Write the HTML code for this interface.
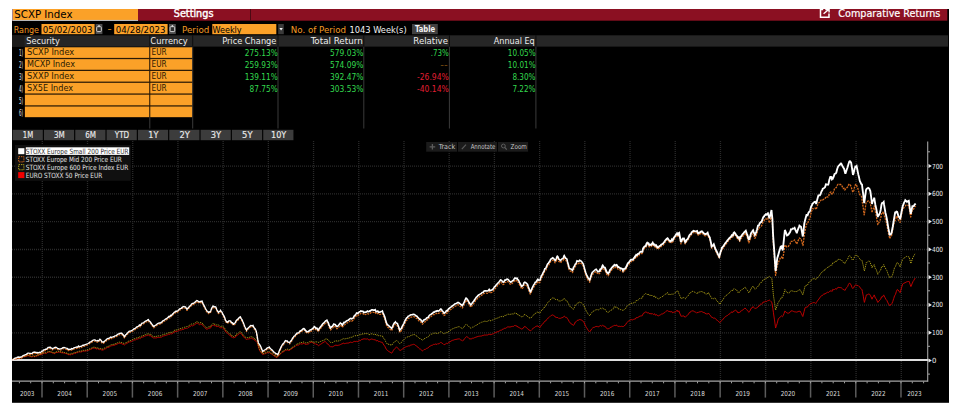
<!DOCTYPE html>
<html lang="en"><head><meta charset="utf-8"><title>SCXP Index - Comparative Returns</title>
<style>
html,body{margin:0;padding:0;background:#fff;}
body{width:964px;height:416px;overflow:hidden;position:relative;}
#ui{position:absolute;left:0;top:0;display:block;}
#ui text{white-space:pre;}
#ui .g{stroke:#2a2a2a;stroke-width:1.3;stroke-dasharray:1 1;}
</style></head><body>
<svg id="ui" width="964" height="416" viewBox="0 0 964 416" font-family='&quot;DejaVu Sans Condensed&quot;,&quot;DejaVu Sans&quot;,&quot;Liberation Sans&quot;,sans-serif'>
<rect x="12.00" y="9.00" width="937.00" height="393.80" fill="#000"/>
<rect x="12.00" y="9.00" width="935.30" height="11.70" fill="#8b1022"/>
<rect x="12.30" y="9.00" width="125.70" height="12.00" fill="#b8b8b8"/>
<rect x="13.00" y="9.00" width="125.00" height="10.90" fill="#fba128"/>
<text x="14.25" y="17.80" textLength="58.30" lengthAdjust="spacingAndGlyphs" font-size="10.2" fill="#000" style='font-family:"DejaVu Sans","Liberation Sans",sans-serif'>SCXP Index</text>
<text x="173.75" y="17.10" textLength="39.70" lengthAdjust="spacingAndGlyphs" font-size="10.8" fill="#fff" stroke="#fff" stroke-width="0.4">Settings</text>
<rect x="250.00" y="9.00" width="1.00" height="11.70" fill="#4d0913"/>
<path d="M823.2,9.6 H820.5 V17.2 H829 V13.6" fill="none" stroke="#fff" stroke-width="1.5"/>
<path d="M823.6,13.8 L828.4,9.7 M825.3,9.5 H829.1 V12.5" fill="none" stroke="#fff" stroke-width="1.4"/>
<text x="838.35" y="16.80" textLength="102.00" lengthAdjust="spacingAndGlyphs" font-size="10.2" fill="#fff" style='font-family:"DejaVu Sans","Liberation Sans",sans-serif' stroke="#fff" stroke-width="0.2">Comparative Returns</text>
<text x="13.65" y="32.90" textLength="25.30" lengthAdjust="spacingAndGlyphs" font-size="9.4" fill="#f39a23">Range</text>
<rect x="41.50" y="24.00" width="53.10" height="10.20" fill="#fba128"/>
<text x="42.85" y="32.90" textLength="49.70" lengthAdjust="spacingAndGlyphs" font-size="9.4" fill="#000">05/02/2003</text>
<rect x="95.60" y="24.00" width="6.80" height="10.10" fill="#4e4e4e"/><rect x="96.70" y="26.7" width="4.6" height="4.9" rx="0.8" fill="#2e2e2e" stroke="#e2e2e2" stroke-width="0.9"/><rect x="98.30" y="25.20" width="1.40" height="1.30" fill="#efefef"/>
<text x="107.50" y="32.10" textLength="4.20" lengthAdjust="spacingAndGlyphs" font-size="9.4" fill="#f39a23">-</text>
<rect x="114.20" y="24.00" width="53.40" height="10.20" fill="#fba128"/>
<text x="115.85" y="32.90" textLength="49.70" lengthAdjust="spacingAndGlyphs" font-size="9.4" fill="#000">04/28/2023</text>
<rect x="169.00" y="24.00" width="6.80" height="10.10" fill="#4e4e4e"/><rect x="170.10" y="26.7" width="4.6" height="4.9" rx="0.8" fill="#2e2e2e" stroke="#e2e2e2" stroke-width="0.9"/><rect x="171.70" y="25.20" width="1.40" height="1.30" fill="#efefef"/>
<text x="182.05" y="32.90" textLength="27.30" lengthAdjust="spacingAndGlyphs" font-size="9.4" fill="#f39a23">Period</text>
<rect x="212.30" y="24.00" width="64.00" height="10.20" fill="#fba128"/>
<text x="212.45" y="32.90" textLength="29.20" lengthAdjust="spacingAndGlyphs" font-size="9.4" fill="#000">Weekly</text>
<rect x="278.20" y="24.00" width="5.60" height="10.20" fill="#3a3a3a"/>
<path d="M279.4,28 h3.4 l-1.7,2.6 z" fill="#f2f2f2"/>
<text x="290.75" y="32.90" textLength="55.30" lengthAdjust="spacingAndGlyphs" font-size="9.4" fill="#f39a23">No. of Period</text>
<text x="349.45" y="32.90" textLength="57.20" lengthAdjust="spacingAndGlyphs" font-size="9.4" fill="#f2f2f2">1043 Week(s)</text>
<rect x="412.00" y="24.00" width="25.80" height="10.20" fill="#404040"/>
<text x="415.05" y="32.20" textLength="20.10" lengthAdjust="spacingAndGlyphs" font-size="8.6" fill="#f4f4f4" font-weight="bold">Table</text>
<rect x="12.00" y="35.30" width="936.00" height="11.30" fill="#262626"/>
<rect x="12.00" y="35.30" width="12.50" height="11.30" fill="#1b1b1b"/>
<text x="26.25" y="44.00" textLength="33.60" lengthAdjust="spacingAndGlyphs" font-size="9.2" fill="#ededed">Security</text>
<text x="150.35" y="44.00" textLength="37.40" lengthAdjust="spacingAndGlyphs" font-size="9.2" fill="#ededed">Currency</text>
<text x="222.15" y="44.00" textLength="54.30" lengthAdjust="spacingAndGlyphs" font-size="9.2" fill="#ededed">Price Change</text>
<text x="310.65" y="44.00" textLength="52.10" lengthAdjust="spacingAndGlyphs" font-size="9.2" fill="#ededed">Total Return</text>
<text x="413.35" y="44.00" textLength="34.60" lengthAdjust="spacingAndGlyphs" font-size="9.2" fill="#ededed">Relative</text>
<text x="493.85" y="44.00" textLength="40.90" lengthAdjust="spacingAndGlyphs" font-size="9.2" fill="#ededed">Annual Eq</text>
<rect x="149.30" y="46.60" width="1.00" height="81.90" fill="#3a3a3a"/>
<rect x="149.30" y="35.30" width="1.00" height="11.30" fill="#0e0e0e"/>
<rect x="192.20" y="46.60" width="1.00" height="81.90" fill="#3a3a3a"/>
<rect x="192.20" y="35.30" width="1.00" height="11.30" fill="#0e0e0e"/>
<rect x="277.50" y="46.60" width="1.00" height="81.90" fill="#3a3a3a"/>
<rect x="277.50" y="35.30" width="1.00" height="11.30" fill="#0e0e0e"/>
<rect x="363.30" y="46.60" width="1.00" height="81.90" fill="#3a3a3a"/>
<rect x="363.30" y="35.30" width="1.00" height="11.30" fill="#0e0e0e"/>
<rect x="448.90" y="46.60" width="1.00" height="81.90" fill="#3a3a3a"/>
<rect x="448.90" y="35.30" width="1.00" height="11.30" fill="#0e0e0e"/>
<rect x="535.40" y="46.60" width="1.00" height="81.90" fill="#3a3a3a"/>
<rect x="535.40" y="35.30" width="1.00" height="11.30" fill="#0e0e0e"/>
<rect x="24.90" y="47.30" width="167.20" height="70.00" fill="#2a1a05"/>
<rect x="24.90" y="47.30" width="124.30" height="10.60" fill="#fba128"/>
<rect x="150.30" y="47.30" width="41.80" height="10.60" fill="#fba128"/>
<text x="19.00" y="56.40" textLength="4.10" lengthAdjust="spacingAndGlyphs" font-size="8.8" fill="#e6e6e6">1)</text>
<text x="27.05" y="55.40" textLength="47.20" lengthAdjust="spacingAndGlyphs" font-size="8.8" fill="#2b1a02">SCXP Index</text>
<text x="151.55" y="55.40" textLength="15.10" lengthAdjust="spacingAndGlyphs" font-size="8.8" fill="#2b1a02">EUR</text>
<text x="244.85" y="56.30" textLength="32.80" lengthAdjust="spacingAndGlyphs" font-size="9.4" fill="#33d84e">275.13%</text>
<text x="330.05" y="56.30" textLength="33.40" lengthAdjust="spacingAndGlyphs" font-size="9.4" fill="#33d84e">579.03%</text>
<text x="430.65" y="56.30" textLength="18.10" lengthAdjust="spacingAndGlyphs" font-size="9.4" fill="#33d84e">.73%</text>
<text x="507.85" y="56.30" textLength="27.70" lengthAdjust="spacingAndGlyphs" font-size="9.4" fill="#33d84e">10.05%</text>
<rect x="24.90" y="59.15" width="124.30" height="10.60" fill="#fba128"/>
<rect x="150.30" y="59.15" width="41.80" height="10.60" fill="#fba128"/>
<text x="19.00" y="68.25" textLength="4.10" lengthAdjust="spacingAndGlyphs" font-size="8.8" fill="#e6e6e6">2)</text>
<text x="27.05" y="67.25" textLength="47.90" lengthAdjust="spacingAndGlyphs" font-size="8.8" fill="#2b1a02">MCXP Index</text>
<text x="151.55" y="67.25" textLength="15.10" lengthAdjust="spacingAndGlyphs" font-size="8.8" fill="#2b1a02">EUR</text>
<text x="244.85" y="68.15" textLength="32.80" lengthAdjust="spacingAndGlyphs" font-size="9.4" fill="#33d84e">259.93%</text>
<text x="330.05" y="68.15" textLength="33.40" lengthAdjust="spacingAndGlyphs" font-size="9.4" fill="#33d84e">574.09%</text>
<text x="440.25" y="68.15" textLength="7.40" lengthAdjust="spacingAndGlyphs" font-size="9.4" fill="#8a5a14">--</text>
<text x="507.85" y="68.15" textLength="27.70" lengthAdjust="spacingAndGlyphs" font-size="9.4" fill="#33d84e">10.01%</text>
<rect x="24.90" y="71.00" width="124.30" height="10.60" fill="#fba128"/>
<rect x="150.30" y="71.00" width="41.80" height="10.60" fill="#fba128"/>
<text x="19.00" y="80.10" textLength="4.10" lengthAdjust="spacingAndGlyphs" font-size="8.8" fill="#e6e6e6">3)</text>
<text x="27.05" y="79.10" textLength="47.20" lengthAdjust="spacingAndGlyphs" font-size="8.8" fill="#2b1a02">SXXP Index</text>
<text x="151.55" y="79.10" textLength="15.10" lengthAdjust="spacingAndGlyphs" font-size="8.8" fill="#2b1a02">EUR</text>
<text x="244.85" y="80.00" textLength="32.80" lengthAdjust="spacingAndGlyphs" font-size="9.4" fill="#33d84e">139.11%</text>
<text x="330.05" y="80.00" textLength="33.40" lengthAdjust="spacingAndGlyphs" font-size="9.4" fill="#33d84e">392.47%</text>
<text x="417.05" y="80.00" textLength="31.70" lengthAdjust="spacingAndGlyphs" font-size="9.4" fill="#e11e32">-26.94%</text>
<text x="512.45" y="80.00" textLength="23.10" lengthAdjust="spacingAndGlyphs" font-size="9.4" fill="#33d84e">8.30%</text>
<rect x="24.90" y="82.85" width="124.30" height="10.60" fill="#fba128"/>
<rect x="150.30" y="82.85" width="41.80" height="10.60" fill="#fba128"/>
<text x="19.00" y="91.95" textLength="4.10" lengthAdjust="spacingAndGlyphs" font-size="8.8" fill="#e6e6e6">4)</text>
<text x="27.05" y="90.95" textLength="46.10" lengthAdjust="spacingAndGlyphs" font-size="8.8" fill="#2b1a02">SX5E Index</text>
<text x="151.55" y="90.95" textLength="15.10" lengthAdjust="spacingAndGlyphs" font-size="8.8" fill="#2b1a02">EUR</text>
<text x="249.55" y="91.85" textLength="28.10" lengthAdjust="spacingAndGlyphs" font-size="9.4" fill="#33d84e">87.75%</text>
<text x="330.05" y="91.85" textLength="33.40" lengthAdjust="spacingAndGlyphs" font-size="9.4" fill="#33d84e">303.53%</text>
<text x="417.05" y="91.85" textLength="31.70" lengthAdjust="spacingAndGlyphs" font-size="9.4" fill="#e11e32">-40.14%</text>
<text x="512.45" y="91.85" textLength="23.10" lengthAdjust="spacingAndGlyphs" font-size="9.4" fill="#33d84e">7.22%</text>
<rect x="24.90" y="94.70" width="124.30" height="10.60" fill="#fba128"/>
<rect x="150.30" y="94.70" width="41.80" height="10.60" fill="#fba128"/>
<text x="19.00" y="103.80" textLength="4.10" lengthAdjust="spacingAndGlyphs" font-size="8.8" fill="#e6e6e6">5)</text>
<rect x="24.90" y="106.55" width="124.30" height="10.60" fill="#fba128"/>
<rect x="150.30" y="106.55" width="41.80" height="10.60" fill="#fba128"/>
<text x="19.00" y="115.65" textLength="4.10" lengthAdjust="spacingAndGlyphs" font-size="8.8" fill="#e6e6e6">6)</text>
<rect x="12.60" y="129.80" width="30.20" height="10.40" fill="#3c3c3c"/>
<text x="22.80" y="138.00" textLength="10.40" lengthAdjust="spacingAndGlyphs" font-size="8.2" fill="#ececec" stroke="#ececec" stroke-width="0.12">1M</text>
<rect x="43.93" y="129.80" width="30.20" height="10.40" fill="#3c3c3c"/>
<text x="53.93" y="138.00" textLength="10.80" lengthAdjust="spacingAndGlyphs" font-size="8.2" fill="#ececec" stroke="#ececec" stroke-width="0.12">3M</text>
<rect x="75.26" y="129.80" width="30.20" height="10.40" fill="#3c3c3c"/>
<text x="85.26" y="138.00" textLength="10.80" lengthAdjust="spacingAndGlyphs" font-size="8.2" fill="#ececec" stroke="#ececec" stroke-width="0.12">6M</text>
<rect x="106.59" y="129.80" width="30.20" height="10.40" fill="#3c3c3c"/>
<text x="114.74" y="138.00" textLength="14.50" lengthAdjust="spacingAndGlyphs" font-size="8.2" fill="#ececec" stroke="#ececec" stroke-width="0.12">YTD</text>
<rect x="137.92" y="129.80" width="30.20" height="10.40" fill="#3c3c3c"/>
<text x="148.27" y="138.00" textLength="10.10" lengthAdjust="spacingAndGlyphs" font-size="8.2" fill="#ececec" stroke="#ececec" stroke-width="0.12">1Y</text>
<rect x="169.25" y="129.80" width="30.20" height="10.40" fill="#3c3c3c"/>
<text x="179.40" y="138.00" textLength="10.50" lengthAdjust="spacingAndGlyphs" font-size="8.2" fill="#ececec" stroke="#ececec" stroke-width="0.12">2Y</text>
<rect x="200.58" y="129.80" width="30.20" height="10.40" fill="#3c3c3c"/>
<text x="210.73" y="138.00" textLength="10.50" lengthAdjust="spacingAndGlyphs" font-size="8.2" fill="#ececec" stroke="#ececec" stroke-width="0.12">3Y</text>
<rect x="231.91" y="129.80" width="30.20" height="10.40" fill="#3c3c3c"/>
<text x="242.06" y="138.00" textLength="10.50" lengthAdjust="spacingAndGlyphs" font-size="8.2" fill="#ececec" stroke="#ececec" stroke-width="0.12">5Y</text>
<rect x="263.24" y="129.80" width="30.20" height="10.40" fill="#3c3c3c"/>
<text x="270.99" y="138.00" textLength="15.30" lengthAdjust="spacingAndGlyphs" font-size="8.2" fill="#ececec" stroke="#ececec" stroke-width="0.12">10Y</text>
<line x1="42.30" y1="141" x2="42.30" y2="381" class="g"/>
<line x1="87.51" y1="141" x2="87.51" y2="381" class="g"/>
<line x1="132.72" y1="141" x2="132.72" y2="381" class="g"/>
<line x1="177.93" y1="141" x2="177.93" y2="381" class="g"/>
<line x1="223.14" y1="141" x2="223.14" y2="381" class="g"/>
<line x1="268.35" y1="141" x2="268.35" y2="381" class="g"/>
<line x1="313.56" y1="141" x2="313.56" y2="381" class="g"/>
<line x1="358.77" y1="141" x2="358.77" y2="381" class="g"/>
<line x1="403.98" y1="141" x2="403.98" y2="381" class="g"/>
<line x1="449.19" y1="141" x2="449.19" y2="381" class="g"/>
<line x1="494.40" y1="141" x2="494.40" y2="381" class="g"/>
<line x1="539.61" y1="141" x2="539.61" y2="381" class="g"/>
<line x1="584.82" y1="141" x2="584.82" y2="381" class="g"/>
<line x1="630.03" y1="141" x2="630.03" y2="381" class="g"/>
<line x1="675.24" y1="141" x2="675.24" y2="381" class="g"/>
<line x1="720.45" y1="141" x2="720.45" y2="381" class="g"/>
<line x1="765.66" y1="141" x2="765.66" y2="381" class="g"/>
<line x1="810.87" y1="141" x2="810.87" y2="381" class="g"/>
<line x1="856.08" y1="141" x2="856.08" y2="381" class="g"/>
<line x1="901.29" y1="141" x2="901.29" y2="381" class="g"/>
<line x1="12" y1="332.82" x2="928" y2="332.82" class="g"/>
<line x1="12" y1="305.04" x2="928" y2="305.04" class="g"/>
<line x1="12" y1="277.26" x2="928" y2="277.26" class="g"/>
<line x1="12" y1="249.48" x2="928" y2="249.48" class="g"/>
<line x1="12" y1="221.70" x2="928" y2="221.70" class="g"/>
<line x1="12" y1="193.92" x2="928" y2="193.92" class="g"/>
<line x1="12" y1="166.14" x2="928" y2="166.14" class="g"/>
<line x1="42.00" y1="381.5" x2="42.00" y2="397.6" stroke="#5c5c5c" stroke-width="1.5"/>
<line x1="87.21" y1="381.5" x2="87.21" y2="397.6" stroke="#5c5c5c" stroke-width="1.5"/>
<line x1="132.42" y1="381.5" x2="132.42" y2="397.6" stroke="#5c5c5c" stroke-width="1.5"/>
<line x1="177.63" y1="381.5" x2="177.63" y2="397.6" stroke="#5c5c5c" stroke-width="1.5"/>
<line x1="222.84" y1="381.5" x2="222.84" y2="397.6" stroke="#5c5c5c" stroke-width="1.5"/>
<line x1="268.05" y1="381.5" x2="268.05" y2="397.6" stroke="#5c5c5c" stroke-width="1.5"/>
<line x1="313.26" y1="381.5" x2="313.26" y2="397.6" stroke="#5c5c5c" stroke-width="1.5"/>
<line x1="358.47" y1="381.5" x2="358.47" y2="397.6" stroke="#5c5c5c" stroke-width="1.5"/>
<line x1="403.68" y1="381.5" x2="403.68" y2="397.6" stroke="#5c5c5c" stroke-width="1.5"/>
<line x1="448.89" y1="381.5" x2="448.89" y2="397.6" stroke="#5c5c5c" stroke-width="1.5"/>
<line x1="494.10" y1="381.5" x2="494.10" y2="397.6" stroke="#5c5c5c" stroke-width="1.5"/>
<line x1="539.31" y1="381.5" x2="539.31" y2="397.6" stroke="#5c5c5c" stroke-width="1.5"/>
<line x1="584.52" y1="381.5" x2="584.52" y2="397.6" stroke="#5c5c5c" stroke-width="1.5"/>
<line x1="629.73" y1="381.5" x2="629.73" y2="397.6" stroke="#5c5c5c" stroke-width="1.5"/>
<line x1="674.94" y1="381.5" x2="674.94" y2="397.6" stroke="#5c5c5c" stroke-width="1.5"/>
<line x1="720.15" y1="381.5" x2="720.15" y2="397.6" stroke="#5c5c5c" stroke-width="1.5"/>
<line x1="765.36" y1="381.5" x2="765.36" y2="397.6" stroke="#5c5c5c" stroke-width="1.5"/>
<line x1="810.57" y1="381.5" x2="810.57" y2="397.6" stroke="#5c5c5c" stroke-width="1.5"/>
<line x1="855.78" y1="381.5" x2="855.78" y2="397.6" stroke="#5c5c5c" stroke-width="1.5"/>
<line x1="900.99" y1="381.5" x2="900.99" y2="397.6" stroke="#5c5c5c" stroke-width="1.5"/>
<line x1="12" y1="381.1" x2="928.2" y2="381.1" stroke="#a4a4a4" stroke-width="1.1"/>
<line x1="927.7" y1="141.5" x2="927.7" y2="381.6" stroke="#a4a4a4" stroke-width="1.1"/>
<line x1="19.4" y1="381.5" x2="19.4" y2="383.3" stroke="#a0a0a0" stroke-width="1"/>
<line x1="30.7" y1="381.5" x2="30.7" y2="383.3" stroke="#a0a0a0" stroke-width="1"/>
<line x1="42.0" y1="381.5" x2="42.0" y2="383.3" stroke="#a0a0a0" stroke-width="1"/>
<line x1="53.3" y1="381.5" x2="53.3" y2="383.3" stroke="#a0a0a0" stroke-width="1"/>
<line x1="64.6" y1="381.5" x2="64.6" y2="383.3" stroke="#a0a0a0" stroke-width="1"/>
<line x1="75.9" y1="381.5" x2="75.9" y2="383.3" stroke="#a0a0a0" stroke-width="1"/>
<line x1="87.2" y1="381.5" x2="87.2" y2="383.3" stroke="#a0a0a0" stroke-width="1"/>
<line x1="98.5" y1="381.5" x2="98.5" y2="383.3" stroke="#a0a0a0" stroke-width="1"/>
<line x1="109.8" y1="381.5" x2="109.8" y2="383.3" stroke="#a0a0a0" stroke-width="1"/>
<line x1="121.1" y1="381.5" x2="121.1" y2="383.3" stroke="#a0a0a0" stroke-width="1"/>
<line x1="132.4" y1="381.5" x2="132.4" y2="383.3" stroke="#a0a0a0" stroke-width="1"/>
<line x1="143.7" y1="381.5" x2="143.7" y2="383.3" stroke="#a0a0a0" stroke-width="1"/>
<line x1="155.0" y1="381.5" x2="155.0" y2="383.3" stroke="#a0a0a0" stroke-width="1"/>
<line x1="166.3" y1="381.5" x2="166.3" y2="383.3" stroke="#a0a0a0" stroke-width="1"/>
<line x1="177.6" y1="381.5" x2="177.6" y2="383.3" stroke="#a0a0a0" stroke-width="1"/>
<line x1="188.9" y1="381.5" x2="188.9" y2="383.3" stroke="#a0a0a0" stroke-width="1"/>
<line x1="200.2" y1="381.5" x2="200.2" y2="383.3" stroke="#a0a0a0" stroke-width="1"/>
<line x1="211.5" y1="381.5" x2="211.5" y2="383.3" stroke="#a0a0a0" stroke-width="1"/>
<line x1="222.8" y1="381.5" x2="222.8" y2="383.3" stroke="#a0a0a0" stroke-width="1"/>
<line x1="234.1" y1="381.5" x2="234.1" y2="383.3" stroke="#a0a0a0" stroke-width="1"/>
<line x1="245.4" y1="381.5" x2="245.4" y2="383.3" stroke="#a0a0a0" stroke-width="1"/>
<line x1="256.7" y1="381.5" x2="256.7" y2="383.3" stroke="#a0a0a0" stroke-width="1"/>
<line x1="268.1" y1="381.5" x2="268.1" y2="383.3" stroke="#a0a0a0" stroke-width="1"/>
<line x1="279.4" y1="381.5" x2="279.4" y2="383.3" stroke="#a0a0a0" stroke-width="1"/>
<line x1="290.7" y1="381.5" x2="290.7" y2="383.3" stroke="#a0a0a0" stroke-width="1"/>
<line x1="302.0" y1="381.5" x2="302.0" y2="383.3" stroke="#a0a0a0" stroke-width="1"/>
<line x1="313.3" y1="381.5" x2="313.3" y2="383.3" stroke="#a0a0a0" stroke-width="1"/>
<line x1="324.6" y1="381.5" x2="324.6" y2="383.3" stroke="#a0a0a0" stroke-width="1"/>
<line x1="335.9" y1="381.5" x2="335.9" y2="383.3" stroke="#a0a0a0" stroke-width="1"/>
<line x1="347.2" y1="381.5" x2="347.2" y2="383.3" stroke="#a0a0a0" stroke-width="1"/>
<line x1="358.5" y1="381.5" x2="358.5" y2="383.3" stroke="#a0a0a0" stroke-width="1"/>
<line x1="369.8" y1="381.5" x2="369.8" y2="383.3" stroke="#a0a0a0" stroke-width="1"/>
<line x1="381.1" y1="381.5" x2="381.1" y2="383.3" stroke="#a0a0a0" stroke-width="1"/>
<line x1="392.4" y1="381.5" x2="392.4" y2="383.3" stroke="#a0a0a0" stroke-width="1"/>
<line x1="403.7" y1="381.5" x2="403.7" y2="383.3" stroke="#a0a0a0" stroke-width="1"/>
<line x1="415.0" y1="381.5" x2="415.0" y2="383.3" stroke="#a0a0a0" stroke-width="1"/>
<line x1="426.3" y1="381.5" x2="426.3" y2="383.3" stroke="#a0a0a0" stroke-width="1"/>
<line x1="437.6" y1="381.5" x2="437.6" y2="383.3" stroke="#a0a0a0" stroke-width="1"/>
<line x1="448.9" y1="381.5" x2="448.9" y2="383.3" stroke="#a0a0a0" stroke-width="1"/>
<line x1="460.2" y1="381.5" x2="460.2" y2="383.3" stroke="#a0a0a0" stroke-width="1"/>
<line x1="471.5" y1="381.5" x2="471.5" y2="383.3" stroke="#a0a0a0" stroke-width="1"/>
<line x1="482.8" y1="381.5" x2="482.8" y2="383.3" stroke="#a0a0a0" stroke-width="1"/>
<line x1="494.1" y1="381.5" x2="494.1" y2="383.3" stroke="#a0a0a0" stroke-width="1"/>
<line x1="505.4" y1="381.5" x2="505.4" y2="383.3" stroke="#a0a0a0" stroke-width="1"/>
<line x1="516.7" y1="381.5" x2="516.7" y2="383.3" stroke="#a0a0a0" stroke-width="1"/>
<line x1="528.0" y1="381.5" x2="528.0" y2="383.3" stroke="#a0a0a0" stroke-width="1"/>
<line x1="539.3" y1="381.5" x2="539.3" y2="383.3" stroke="#a0a0a0" stroke-width="1"/>
<line x1="550.6" y1="381.5" x2="550.6" y2="383.3" stroke="#a0a0a0" stroke-width="1"/>
<line x1="561.9" y1="381.5" x2="561.9" y2="383.3" stroke="#a0a0a0" stroke-width="1"/>
<line x1="573.2" y1="381.5" x2="573.2" y2="383.3" stroke="#a0a0a0" stroke-width="1"/>
<line x1="584.5" y1="381.5" x2="584.5" y2="383.3" stroke="#a0a0a0" stroke-width="1"/>
<line x1="595.8" y1="381.5" x2="595.8" y2="383.3" stroke="#a0a0a0" stroke-width="1"/>
<line x1="607.1" y1="381.5" x2="607.1" y2="383.3" stroke="#a0a0a0" stroke-width="1"/>
<line x1="618.4" y1="381.5" x2="618.4" y2="383.3" stroke="#a0a0a0" stroke-width="1"/>
<line x1="629.7" y1="381.5" x2="629.7" y2="383.3" stroke="#a0a0a0" stroke-width="1"/>
<line x1="641.0" y1="381.5" x2="641.0" y2="383.3" stroke="#a0a0a0" stroke-width="1"/>
<line x1="652.3" y1="381.5" x2="652.3" y2="383.3" stroke="#a0a0a0" stroke-width="1"/>
<line x1="663.6" y1="381.5" x2="663.6" y2="383.3" stroke="#a0a0a0" stroke-width="1"/>
<line x1="674.9" y1="381.5" x2="674.9" y2="383.3" stroke="#a0a0a0" stroke-width="1"/>
<line x1="686.2" y1="381.5" x2="686.2" y2="383.3" stroke="#a0a0a0" stroke-width="1"/>
<line x1="697.5" y1="381.5" x2="697.5" y2="383.3" stroke="#a0a0a0" stroke-width="1"/>
<line x1="708.8" y1="381.5" x2="708.8" y2="383.3" stroke="#a0a0a0" stroke-width="1"/>
<line x1="720.2" y1="381.5" x2="720.2" y2="383.3" stroke="#a0a0a0" stroke-width="1"/>
<line x1="731.5" y1="381.5" x2="731.5" y2="383.3" stroke="#a0a0a0" stroke-width="1"/>
<line x1="742.8" y1="381.5" x2="742.8" y2="383.3" stroke="#a0a0a0" stroke-width="1"/>
<line x1="754.1" y1="381.5" x2="754.1" y2="383.3" stroke="#a0a0a0" stroke-width="1"/>
<line x1="765.4" y1="381.5" x2="765.4" y2="383.3" stroke="#a0a0a0" stroke-width="1"/>
<line x1="776.7" y1="381.5" x2="776.7" y2="383.3" stroke="#a0a0a0" stroke-width="1"/>
<line x1="788.0" y1="381.5" x2="788.0" y2="383.3" stroke="#a0a0a0" stroke-width="1"/>
<line x1="799.3" y1="381.5" x2="799.3" y2="383.3" stroke="#a0a0a0" stroke-width="1"/>
<line x1="810.6" y1="381.5" x2="810.6" y2="383.3" stroke="#a0a0a0" stroke-width="1"/>
<line x1="821.9" y1="381.5" x2="821.9" y2="383.3" stroke="#a0a0a0" stroke-width="1"/>
<line x1="833.2" y1="381.5" x2="833.2" y2="383.3" stroke="#a0a0a0" stroke-width="1"/>
<line x1="844.5" y1="381.5" x2="844.5" y2="383.3" stroke="#a0a0a0" stroke-width="1"/>
<line x1="855.8" y1="381.5" x2="855.8" y2="383.3" stroke="#a0a0a0" stroke-width="1"/>
<line x1="867.1" y1="381.5" x2="867.1" y2="383.3" stroke="#a0a0a0" stroke-width="1"/>
<line x1="878.4" y1="381.5" x2="878.4" y2="383.3" stroke="#a0a0a0" stroke-width="1"/>
<line x1="889.7" y1="381.5" x2="889.7" y2="383.3" stroke="#a0a0a0" stroke-width="1"/>
<line x1="901.0" y1="381.5" x2="901.0" y2="383.3" stroke="#a0a0a0" stroke-width="1"/>
<line x1="912.3" y1="381.5" x2="912.3" y2="383.3" stroke="#a0a0a0" stroke-width="1"/>
<line x1="923.6" y1="381.5" x2="923.6" y2="383.3" stroke="#a0a0a0" stroke-width="1"/>
<line x1="928" y1="374.1" x2="930.0" y2="374.1" stroke="#a0a0a0" stroke-width="1"/>
<path d="M928.5,358.4 l3.4,2.1 l-3.4,2.1 z" fill="#ececec"/>
<text x="931.95" y="363.00" textLength="4.40" lengthAdjust="spacingAndGlyphs" font-size="7.0" fill="#ececec">0</text>
<line x1="928" y1="346.3" x2="930.0" y2="346.3" stroke="#a0a0a0" stroke-width="1"/>
<path d="M928.5,330.6 l3.4,2.1 l-3.4,2.1 z" fill="#ececec"/>
<text x="931.95" y="335.22" textLength="11.10" lengthAdjust="spacingAndGlyphs" font-size="7.0" fill="#ececec">100</text>
<line x1="928" y1="318.5" x2="930.0" y2="318.5" stroke="#a0a0a0" stroke-width="1"/>
<path d="M928.5,302.8 l3.4,2.1 l-3.4,2.1 z" fill="#ececec"/>
<text x="931.95" y="307.44" textLength="11.10" lengthAdjust="spacingAndGlyphs" font-size="7.0" fill="#ececec">200</text>
<line x1="928" y1="290.8" x2="930.0" y2="290.8" stroke="#a0a0a0" stroke-width="1"/>
<path d="M928.5,275.1 l3.4,2.1 l-3.4,2.1 z" fill="#ececec"/>
<text x="931.95" y="279.66" textLength="11.10" lengthAdjust="spacingAndGlyphs" font-size="7.0" fill="#ececec">300</text>
<line x1="928" y1="263.0" x2="930.0" y2="263.0" stroke="#a0a0a0" stroke-width="1"/>
<path d="M928.5,247.3 l3.4,2.1 l-3.4,2.1 z" fill="#ececec"/>
<text x="931.95" y="251.88" textLength="11.10" lengthAdjust="spacingAndGlyphs" font-size="7.0" fill="#ececec">400</text>
<line x1="928" y1="235.2" x2="930.0" y2="235.2" stroke="#a0a0a0" stroke-width="1"/>
<path d="M928.5,219.5 l3.4,2.1 l-3.4,2.1 z" fill="#ececec"/>
<text x="931.95" y="224.10" textLength="11.10" lengthAdjust="spacingAndGlyphs" font-size="7.0" fill="#ececec">500</text>
<line x1="928" y1="207.4" x2="930.0" y2="207.4" stroke="#a0a0a0" stroke-width="1"/>
<path d="M928.5,191.7 l3.4,2.1 l-3.4,2.1 z" fill="#ececec"/>
<text x="931.95" y="196.32" textLength="11.10" lengthAdjust="spacingAndGlyphs" font-size="7.0" fill="#ececec">600</text>
<line x1="928" y1="179.6" x2="930.0" y2="179.6" stroke="#a0a0a0" stroke-width="1"/>
<path d="M928.5,163.9 l3.4,2.1 l-3.4,2.1 z" fill="#ececec"/>
<text x="931.95" y="168.54" textLength="11.10" lengthAdjust="spacingAndGlyphs" font-size="7.0" fill="#ececec">700</text>
<line x1="928" y1="151.8" x2="930.0" y2="151.8" stroke="#a0a0a0" stroke-width="1"/>
<line x1="12" y1="360.0" x2="928.4" y2="360.0" stroke="#dedede" stroke-width="2.1"/>
<text x="19.90" y="396.30" textLength="14.50" lengthAdjust="spacingAndGlyphs" font-size="6.9" fill="#d8d8d8">2003</text>
<text x="57.36" y="396.30" textLength="14.50" lengthAdjust="spacingAndGlyphs" font-size="6.9" fill="#d8d8d8">2004</text>
<text x="102.57" y="396.30" textLength="14.50" lengthAdjust="spacingAndGlyphs" font-size="6.9" fill="#d8d8d8">2005</text>
<text x="147.78" y="396.30" textLength="14.50" lengthAdjust="spacingAndGlyphs" font-size="6.9" fill="#d8d8d8">2006</text>
<text x="192.98" y="396.30" textLength="14.50" lengthAdjust="spacingAndGlyphs" font-size="6.9" fill="#d8d8d8">2007</text>
<text x="238.19" y="396.30" textLength="14.50" lengthAdjust="spacingAndGlyphs" font-size="6.9" fill="#d8d8d8">2008</text>
<text x="283.41" y="396.30" textLength="14.50" lengthAdjust="spacingAndGlyphs" font-size="6.9" fill="#d8d8d8">2009</text>
<text x="328.62" y="396.30" textLength="14.50" lengthAdjust="spacingAndGlyphs" font-size="6.9" fill="#d8d8d8">2010</text>
<text x="373.83" y="396.30" textLength="14.50" lengthAdjust="spacingAndGlyphs" font-size="6.9" fill="#d8d8d8">2011</text>
<text x="419.04" y="396.30" textLength="14.50" lengthAdjust="spacingAndGlyphs" font-size="6.9" fill="#d8d8d8">2012</text>
<text x="464.25" y="396.30" textLength="14.50" lengthAdjust="spacingAndGlyphs" font-size="6.9" fill="#d8d8d8">2013</text>
<text x="509.46" y="396.30" textLength="14.50" lengthAdjust="spacingAndGlyphs" font-size="6.9" fill="#d8d8d8">2014</text>
<text x="554.66" y="396.30" textLength="14.50" lengthAdjust="spacingAndGlyphs" font-size="6.9" fill="#d8d8d8">2015</text>
<text x="599.88" y="396.30" textLength="14.50" lengthAdjust="spacingAndGlyphs" font-size="6.9" fill="#d8d8d8">2016</text>
<text x="645.09" y="396.30" textLength="14.50" lengthAdjust="spacingAndGlyphs" font-size="6.9" fill="#d8d8d8">2017</text>
<text x="690.30" y="396.30" textLength="14.50" lengthAdjust="spacingAndGlyphs" font-size="6.9" fill="#d8d8d8">2018</text>
<text x="735.50" y="396.30" textLength="14.50" lengthAdjust="spacingAndGlyphs" font-size="6.9" fill="#d8d8d8">2019</text>
<text x="780.72" y="396.30" textLength="14.50" lengthAdjust="spacingAndGlyphs" font-size="6.9" fill="#d8d8d8">2020</text>
<text x="825.93" y="396.30" textLength="14.50" lengthAdjust="spacingAndGlyphs" font-size="6.9" fill="#d8d8d8">2021</text>
<text x="871.13" y="396.30" textLength="14.50" lengthAdjust="spacingAndGlyphs" font-size="6.9" fill="#d8d8d8">2022</text>
<text x="907.15" y="396.30" textLength="14.50" lengthAdjust="spacingAndGlyphs" font-size="6.9" fill="#d8d8d8">2023</text>
<path d="M12.4,359.6 L13.3,359.5 L14.1,359.4 L15.0,358.9 L15.9,358.7 L16.8,358.7 L17.6,358.3 L18.5,358.1 L19.4,358.2 L20.2,358.0 L21.1,357.6 L21.4,357.5 L22.0,357.3 L22.8,356.8 L23.7,356.7 L24.6,356.7 L25.4,356.3 L26.3,356.4 L27.2,355.9 L28.0,355.6 L28.1,355.6 L28.9,355.9 L29.8,356.3 L30.7,356.6 L31.3,356.9 L31.5,356.8 L32.4,356.7 L33.3,356.1 L34.1,356.7 L35.0,356.6 L35.9,355.9 L36.8,356.3 L37.6,355.6 L38.5,355.6 L39.4,354.8 L40.2,354.8 L40.2,354.8 L41.1,354.6 L42.0,353.8 L42.9,354.2 L43.7,353.4 L44.6,353.2 L45.5,353.3 L46.3,353.4 L47.2,352.8 L48.1,352.0 L48.9,352.3 L49.8,352.0 L50.0,352.0 L50.7,352.3 L51.5,352.5 L52.4,353.0 L53.3,353.1 L54.1,353.6 L54.2,353.6 L55.0,353.6 L55.9,352.4 L56.8,352.5 L57.6,352.5 L58.5,352.2 L59.0,352.0 L59.4,352.2 L60.2,352.4 L61.1,352.6 L62.0,352.9 L62.9,352.8 L63.7,353.0 L64.0,353.1 L64.6,353.2 L65.5,353.5 L66.3,353.7 L67.2,353.8 L68.1,354.8 L69.0,354.5 L69.8,354.7 L70.5,354.8 L70.7,354.7 L71.6,354.1 L72.4,354.4 L73.3,353.9 L74.2,353.2 L75.0,353.5 L75.9,353.2 L76.8,352.5 L77.7,352.6 L78.5,352.0 L78.7,352.0 L79.4,352.0 L80.3,351.9 L81.1,352.1 L82.0,351.5 L82.9,351.0 L83.7,351.2 L84.6,351.1 L85.5,351.1 L86.3,350.8 L87.2,350.7 L88.1,350.5 L88.5,350.4 L89.0,350.1 L89.8,349.6 L90.7,349.4 L91.6,349.0 L92.4,348.5 L93.3,348.2 L93.4,348.2 L94.2,348.1 L95.0,348.0 L95.9,348.8 L96.8,349.0 L97.7,348.6 L98.5,349.3 L99.4,349.6 L100.3,349.4 L101.1,349.6 L102.0,350.3 L102.9,349.9 L103.2,349.9 L103.8,349.7 L104.6,349.1 L105.5,348.8 L106.4,348.2 L107.2,347.5 L108.1,347.4 L109.0,347.3 L109.8,346.6 L110.7,346.0 L111.4,345.8 L111.6,345.8 L112.5,345.6 L113.3,345.4 L114.2,345.4 L115.1,344.8 L115.9,344.6 L116.8,344.4 L117.7,343.8 L118.5,343.5 L119.4,343.4 L119.5,343.3 L120.3,343.5 L121.2,343.4 L122.0,344.1 L122.9,344.2 L123.8,344.6 L124.4,345.0 L124.6,344.9 L125.5,344.0 L126.4,343.7 L127.2,343.2 L128.1,342.7 L129.0,342.0 L129.8,341.8 L130.0,341.7 L130.7,341.8 L131.6,341.4 L132.5,340.8 L133.3,340.3 L134.2,340.0 L135.1,340.0 L135.9,339.7 L136.8,339.0 L137.7,339.1 L138.0,339.0 L138.6,338.8 L139.4,338.0 L140.3,338.6 L141.2,337.7 L142.0,337.0 L142.9,337.1 L143.8,336.7 L144.6,336.3 L145.5,335.9 L146.4,335.6 L147.2,335.5 L148.1,335.0 L148.4,335.0 L149.0,335.6 L149.9,335.8 L150.7,335.6 L151.6,336.9 L152.5,337.4 L153.3,337.8 L153.8,338.0 L154.2,337.9 L155.1,337.9 L155.9,337.9 L156.8,337.8 L157.7,337.4 L158.6,337.4 L159.4,337.4 L160.0,337.3 L160.3,337.3 L161.2,337.2 L162.0,336.8 L162.9,336.0 L163.8,335.9 L164.7,335.7 L165.5,335.5 L166.4,335.2 L167.3,334.9 L168.0,334.5 L168.1,334.5 L169.0,333.8 L169.9,334.5 L170.7,333.5 L171.6,333.9 L172.5,333.5 L173.3,333.0 L174.2,331.9 L175.1,331.7 L176.0,331.2 L176.8,331.5 L177.7,331.1 L178.4,330.8 L178.6,330.7 L179.4,330.1 L180.3,330.0 L181.2,330.0 L182.1,329.5 L182.9,329.4 L183.8,329.3 L184.7,328.6 L185.5,328.5 L186.0,328.6 L186.4,328.2 L187.3,328.4 L188.1,327.6 L189.0,327.1 L189.9,326.5 L190.8,326.2 L191.6,325.5 L192.5,325.9 L193.4,325.4 L194.2,325.0 L195.1,324.4 L196.0,323.7 L196.8,323.2 L196.8,323.2 L197.7,323.4 L198.6,324.0 L199.4,324.7 L200.3,324.1 L201.2,324.3 L202.0,324.3 L202.1,324.4 L202.9,325.6 L203.8,326.6 L204.7,327.5 L205.5,328.3 L206.4,329.2 L206.5,329.3 L207.3,329.0 L208.2,328.7 L209.0,327.8 L209.9,328.3 L210.8,327.7 L211.6,326.2 L212.5,325.5 L213.0,325.0 L213.4,325.1 L214.2,325.8 L215.1,325.5 L216.0,326.1 L216.8,326.7 L217.7,326.4 L218.4,326.5 L218.6,326.6 L219.5,327.1 L220.3,327.9 L221.2,327.8 L222.1,327.5 L222.9,328.3 L223.8,328.6 L223.8,328.6 L224.7,329.8 L225.6,331.8 L226.4,332.1 L227.3,333.2 L228.2,333.8 L229.0,334.8 L229.2,335.1 L229.9,335.3 L230.8,335.8 L231.6,337.2 L232.5,337.0 L233.4,337.9 L233.5,338.0 L234.2,337.5 L235.1,337.5 L236.0,336.0 L236.9,335.3 L237.7,335.1 L238.6,334.2 L239.5,333.4 L240.3,333.0 L240.4,333.0 L241.2,334.0 L242.1,334.7 L242.9,336.1 L243.8,337.0 L244.7,338.1 L245.6,338.8 L246.4,339.4 L246.5,339.5 L247.3,339.1 L248.2,338.9 L249.0,339.1 L249.9,338.5 L250.8,338.1 L251.7,338.4 L252.5,338.8 L253.0,338.4 L253.4,338.9 L254.3,340.1 L255.1,340.3 L256.0,341.5 L256.9,342.4 L257.3,342.7 L257.7,344.4 L258.6,347.3 L259.5,350.2 L259.5,350.3 L260.4,351.7 L261.2,352.7 L262.1,353.8 L262.7,354.6 L263.0,354.5 L263.8,354.1 L264.7,353.8 L265.6,353.6 L266.0,353.5 L266.4,353.2 L267.3,352.7 L268.2,352.7 L269.1,352.4 L269.2,352.4 L269.9,353.0 L270.8,353.8 L271.7,354.1 L272.4,354.6 L272.5,354.7 L273.4,355.4 L274.3,356.2 L275.1,356.6 L276.0,357.1 L276.8,357.8 L276.9,357.7 L277.8,356.5 L278.6,356.0 L279.5,354.7 L280.4,354.3 L281.0,353.5 L281.2,353.3 L282.1,352.4 L283.0,351.9 L283.8,351.8 L284.7,350.8 L285.4,350.3 L285.6,350.3 L286.4,350.3 L287.3,349.9 L288.2,350.4 L289.1,350.3 L289.7,350.3 L289.9,350.0 L290.8,349.3 L291.7,349.0 L292.5,347.9 L293.4,347.5 L294.0,347.0 L294.3,346.9 L295.1,346.6 L296.0,345.7 L296.9,345.1 L297.8,345.1 L298.6,345.1 L299.5,344.4 L300.4,343.8 L300.5,343.8 L301.2,344.0 L302.1,344.0 L303.0,343.7 L303.9,343.4 L304.7,343.8 L305.6,344.4 L306.5,344.3 L307.0,344.4 L307.3,344.2 L308.2,344.0 L309.1,343.5 L309.9,342.7 L310.8,342.3 L311.7,342.1 L312.0,342.0 L312.6,342.4 L313.4,343.2 L314.3,343.8 L315.2,343.6 L316.0,344.5 L316.9,344.2 L317.8,345.0 L318.6,345.7 L318.6,345.7 L319.5,345.0 L320.4,344.4 L321.2,343.9 L322.1,343.3 L323.0,342.5 L323.9,342.3 L324.7,341.6 L325.0,341.4 L325.6,341.8 L326.5,342.7 L327.3,343.9 L328.2,344.2 L329.1,345.5 L329.9,346.2 L330.5,346.8 L330.8,346.8 L331.7,346.7 L332.6,346.8 L333.4,346.4 L334.3,345.8 L335.2,345.2 L336.0,345.5 L336.9,345.2 L337.8,345.5 L338.6,345.2 L339.5,345.0 L340.3,344.6 L340.4,344.6 L341.3,344.1 L342.1,343.9 L343.0,343.3 L343.9,343.1 L344.7,343.7 L345.6,343.4 L346.5,343.2 L347.4,343.1 L348.2,343.1 L349.1,342.8 L350.0,342.4 L350.0,342.4 L350.8,342.1 L351.7,342.5 L352.6,342.4 L353.4,341.8 L354.3,341.4 L355.2,341.6 L356.1,341.5 L356.5,341.4 L356.9,341.2 L357.8,341.6 L358.7,340.9 L359.5,340.4 L360.4,340.7 L361.3,339.6 L362.1,339.5 L363.0,339.0 L363.9,338.9 L364.0,338.8 L364.8,338.9 L365.6,339.0 L366.5,339.1 L367.4,338.8 L368.2,339.4 L369.1,340.1 L370.0,339.6 L370.8,339.3 L371.7,339.0 L372.6,339.3 L373.4,339.6 L373.8,339.6 L374.3,339.8 L375.2,339.5 L376.1,340.8 L376.9,340.8 L377.8,340.5 L378.7,341.7 L379.5,341.5 L380.4,341.9 L381.3,342.2 L382.1,342.4 L382.4,342.4 L383.0,343.6 L383.9,345.1 L384.8,346.1 L385.6,348.0 L386.5,349.4 L386.8,350.0 L387.4,350.3 L388.2,351.1 L389.1,351.6 L390.0,352.2 L390.9,352.6 L391.7,353.2 L391.7,353.2 L392.6,351.8 L393.5,350.2 L394.3,349.1 L395.2,348.4 L396.1,347.5 L396.5,346.8 L396.9,347.2 L397.8,348.2 L398.7,349.1 L399.6,350.2 L399.7,350.4 L400.4,350.3 L401.3,350.1 L402.2,349.1 L403.0,348.4 L403.9,348.1 L404.8,347.4 L405.6,347.0 L406.2,346.8 L406.5,346.6 L407.4,346.4 L408.2,345.8 L409.1,346.2 L410.0,345.5 L410.9,345.0 L411.7,344.9 L412.6,344.6 L413.5,344.4 L413.8,344.2 L414.3,344.4 L415.2,345.1 L416.1,345.9 L416.9,346.2 L417.8,347.0 L418.7,348.1 L419.6,348.9 L420.4,349.1 L421.3,349.9 L422.2,350.7 L422.4,351.0 L423.0,350.6 L423.9,349.7 L424.8,349.4 L425.6,349.3 L426.5,348.4 L427.4,348.2 L428.3,347.8 L429.1,346.7 L430.0,346.1 L430.9,345.8 L431.0,345.7 L431.7,345.3 L432.6,345.1 L433.5,344.4 L434.4,344.5 L435.2,344.0 L436.1,344.2 L437.0,344.5 L437.8,343.6 L438.7,343.8 L439.6,343.3 L440.4,342.6 L440.8,342.4 L441.3,342.6 L442.2,343.3 L443.1,343.8 L443.9,344.6 L444.0,344.6 L444.8,344.5 L445.7,343.9 L446.5,343.3 L447.4,343.7 L448.3,342.7 L449.1,342.3 L450.0,341.6 L450.9,341.3 L451.8,340.6 L452.6,340.3 L452.7,340.3 L453.5,340.1 L454.4,339.7 L455.2,339.5 L456.1,339.4 L457.0,339.2 L457.8,339.0 L458.7,338.9 L459.2,338.8 L459.6,339.0 L460.4,339.7 L461.3,340.1 L462.2,340.9 L462.4,341.0 L463.1,340.3 L463.9,339.8 L464.8,338.4 L465.7,337.3 L466.5,336.7 L466.8,336.6 L467.4,337.0 L468.3,337.6 L469.1,338.5 L470.0,339.2 L470.0,339.2 L470.9,338.7 L471.8,338.8 L472.6,338.2 L473.5,338.2 L474.4,337.7 L475.2,337.5 L476.0,337.0 L476.1,337.0 L477.0,336.9 L477.9,336.4 L478.7,336.3 L479.6,336.2 L480.5,336.1 L481.3,336.1 L482.2,335.5 L483.1,335.7 L483.9,335.0 L484.8,335.0 L485.7,335.1 L486.0,335.0 L486.6,335.0 L487.4,335.0 L488.3,334.7 L489.2,334.0 L490.0,334.8 L490.9,334.5 L491.8,334.3 L492.4,334.0 L492.6,334.0 L493.5,333.7 L494.4,332.9 L495.2,332.9 L496.1,332.2 L497.0,332.0 L497.0,332.0 L497.9,331.6 L498.7,331.4 L499.6,330.8 L500.5,330.3 L501.0,330.5 L501.3,330.3 L502.2,329.5 L503.1,329.1 L503.2,329.0 L503.9,328.9 L504.8,328.1 L505.7,328.3 L506.6,327.6 L507.4,327.0 L508.3,326.9 L509.2,327.0 L510.0,327.0 L510.9,326.8 L511.8,326.5 L512.6,326.4 L513.5,326.4 L514.4,325.6 L515.1,325.4 L515.3,325.5 L516.1,326.1 L517.0,325.9 L517.9,327.2 L518.7,327.1 L519.6,328.1 L520.5,328.4 L521.4,328.9 L521.6,329.0 L522.2,328.8 L523.1,328.4 L524.0,326.9 L524.8,326.5 L524.9,326.5 L525.7,327.0 L526.6,327.7 L527.4,328.5 L528.3,329.5 L529.2,330.0 L530.0,330.5 L530.3,330.8 L530.9,330.6 L531.8,329.7 L532.7,328.9 L533.5,327.9 L534.4,327.5 L535.3,326.7 L536.1,326.7 L536.8,326.0 L537.0,326.2 L537.9,325.9 L538.8,327.0 L539.6,327.4 L540.0,327.6 L540.5,326.7 L541.4,325.1 L542.2,324.6 L543.1,323.3 L543.2,323.2 L544.0,322.6 L544.8,321.2 L545.7,321.0 L546.6,319.7 L547.5,318.5 L547.6,318.3 L548.3,318.0 L549.2,317.3 L550.1,316.4 L550.9,315.6 L551.8,315.3 L551.9,315.2 L552.7,314.9 L553.5,315.4 L554.4,315.8 L555.3,317.1 L556.1,317.4 L556.2,317.4 L557.0,317.5 L557.9,317.5 L558.8,318.5 L559.6,318.3 L560.5,318.3 L561.4,317.9 L562.2,317.6 L563.1,317.5 L564.0,316.2 L564.2,316.1 L564.9,316.7 L565.7,317.4 L566.6,317.4 L567.0,317.8 L567.5,318.8 L568.3,319.8 L569.2,321.6 L570.1,322.8 L570.3,323.2 L570.9,323.5 L571.8,324.0 L572.7,325.0 L573.5,325.4 L573.5,325.3 L574.4,324.1 L575.3,322.0 L576.2,321.6 L576.8,321.0 L577.0,320.7 L577.9,320.1 L578.8,320.1 L579.6,319.5 L580.0,319.6 L580.5,319.7 L581.4,320.0 L582.2,320.5 L583.1,321.4 L583.7,321.7 L584.0,322.3 L584.9,324.6 L585.7,326.3 L586.5,327.6 L586.6,327.7 L587.5,329.2 L588.3,330.5 L589.2,331.3 L589.7,331.9 L590.1,331.4 L591.0,330.0 L591.8,328.8 L592.7,328.0 L593.0,327.6 L593.6,327.4 L594.4,327.3 L595.3,326.7 L596.2,326.4 L597.0,326.7 L597.3,326.5 L597.9,326.8 L598.8,326.7 L599.6,326.1 L600.5,325.5 L601.4,326.2 L602.3,325.4 L602.7,325.4 L603.1,325.6 L604.0,326.3 L604.9,326.2 L605.7,327.2 L606.6,328.4 L607.5,328.8 L608.1,329.0 L608.4,328.7 L609.2,328.6 L610.1,327.5 L611.0,327.3 L611.8,326.8 L612.7,326.2 L613.5,326.0 L613.6,326.0 L614.3,325.3 L614.4,325.3 L615.3,325.6 L616.2,325.2 L617.0,325.3 L617.9,326.5 L618.8,326.3 L619.7,326.3 L620.5,326.5 L621.4,326.3 L622.3,326.4 L623.0,327.0 L623.1,326.8 L624.0,325.8 L624.9,325.4 L625.8,324.5 L626.6,322.8 L627.5,322.0 L628.4,321.2 L629.2,320.9 L629.5,320.5 L630.1,320.1 L631.0,319.6 L631.8,319.7 L632.7,319.9 L633.6,319.4 L634.5,319.1 L635.3,319.1 L636.2,317.6 L637.1,317.8 L637.9,317.4 L638.1,317.3 L638.8,317.0 L639.7,316.0 L640.5,316.0 L641.4,315.9 L642.3,315.7 L643.1,313.7 L644.0,312.9 L644.9,312.6 L645.7,311.9 L645.8,312.0 L646.6,312.1 L647.5,313.1 L648.4,312.6 L649.2,313.7 L650.1,313.4 L651.0,314.0 L651.9,313.7 L652.2,314.0 L652.7,313.7 L653.6,314.5 L654.5,313.7 L655.3,315.2 L656.2,314.6 L657.1,315.1 L657.9,315.8 L658.6,315.8 L658.8,315.7 L659.7,315.2 L660.5,314.8 L661.4,314.1 L662.3,314.0 L663.2,313.5 L664.0,313.0 L664.9,312.5 L665.8,311.5 L666.6,310.9 L667.3,310.8 L667.5,310.6 L668.4,311.3 L669.2,311.4 L670.1,311.7 L671.0,311.9 L671.9,311.6 L672.7,312.8 L673.6,312.3 L673.8,312.3 L674.5,312.1 L675.3,311.9 L676.2,311.4 L677.1,310.1 L678.0,311.8 L678.8,310.8 L678.8,310.9 L679.7,313.1 L680.6,315.2 L680.9,316.2 L681.4,316.2 L682.3,316.1 L683.2,315.9 L684.0,316.0 L684.9,317.1 L685.2,317.3 L685.8,316.7 L686.6,315.7 L687.5,315.2 L688.4,314.3 L689.3,312.6 L690.1,312.2 L691.0,311.7 L691.7,310.8 L691.9,310.8 L692.7,310.9 L693.6,311.1 L694.5,311.7 L695.4,312.1 L696.2,312.8 L696.5,313.0 L697.1,312.4 L698.0,312.8 L698.8,311.9 L699.7,311.9 L700.6,311.7 L701.4,311.5 L701.9,311.5 L702.3,311.9 L703.2,312.2 L704.0,313.0 L704.9,312.7 L705.8,313.9 L706.2,314.0 L706.7,313.8 L707.5,314.1 L708.4,313.0 L709.3,314.3 L710.1,315.3 L711.0,316.2 L711.6,317.3 L711.9,317.4 L712.8,317.6 L713.6,318.2 L714.5,318.0 L714.9,318.0 L715.4,318.6 L716.2,319.6 L717.1,320.2 L718.0,321.1 L718.8,321.6 L719.7,322.6 L719.8,322.7 L720.6,321.7 L721.5,320.6 L722.3,320.1 L723.2,319.1 L724.1,317.9 L724.6,317.3 L724.9,317.1 L725.8,316.4 L726.7,315.8 L727.5,315.5 L728.4,314.5 L729.3,314.0 L730.0,313.6 L730.1,313.5 L731.0,312.3 L731.9,312.0 L732.8,312.4 L733.6,311.1 L734.5,310.8 L735.4,310.2 L735.4,310.2 L736.2,310.8 L737.1,311.3 L738.0,313.0 L738.9,312.4 L739.3,313.0 L739.7,312.5 L740.6,311.2 L741.5,310.9 L742.3,310.1 L743.2,309.7 L744.1,308.8 L744.9,308.1 L745.1,308.0 L745.8,309.0 L746.7,309.8 L747.5,310.4 L748.4,311.7 L748.8,312.3 L749.3,311.7 L750.2,310.5 L751.0,308.4 L751.9,308.1 L752.8,306.9 L753.1,306.5 L753.6,307.2 L754.5,308.2 L754.9,308.6 L755.4,308.4 L756.2,308.2 L757.1,307.7 L758.0,306.8 L758.9,306.3 L759.7,304.9 L760.3,304.3 L760.6,304.1 L761.5,304.3 L762.3,303.4 L763.2,302.0 L764.1,302.1 L765.0,301.7 L765.4,301.4 L765.8,301.0 L766.7,301.6 L767.6,300.6 L768.4,300.6 L769.3,300.1 L769.7,300.3 L770.2,300.7 L771.0,301.6 L771.9,302.4 L771.9,302.5 L772.8,308.4 L773.4,312.2 L773.6,314.0 L774.5,319.9 L775.4,326.5 L775.6,328.0 L776.3,325.8 L777.1,323.7 L778.0,320.0 L778.4,318.6 L778.9,318.3 L779.7,317.7 L780.6,316.5 L781.5,315.9 L782.4,316.7 L782.7,316.5 L783.2,315.5 L784.1,313.4 L784.9,311.0 L785.0,311.1 L785.8,311.8 L786.7,312.9 L787.0,313.2 L787.6,313.1 L788.4,313.2 L789.3,313.0 L790.2,311.8 L791.0,310.8 L791.9,311.0 L792.4,311.0 L792.8,311.0 L793.7,311.5 L794.5,311.8 L795.4,311.9 L796.3,312.0 L796.8,312.2 L797.1,312.0 L798.0,311.6 L798.9,311.3 L799.8,311.2 L800.0,311.0 L800.6,312.2 L801.5,313.7 L802.4,315.8 L802.8,316.5 L803.2,315.1 L804.1,311.5 L805.0,307.9 L805.0,307.8 L805.8,307.2 L806.7,307.2 L807.6,306.9 L808.5,305.3 L809.3,304.7 L809.7,304.6 L810.2,304.3 L811.1,303.2 L811.9,303.5 L812.8,302.5 L813.0,302.4 L813.7,302.7 L814.5,302.6 L815.4,303.1 L815.8,303.5 L816.3,302.6 L817.1,301.4 L818.0,300.1 L818.9,299.1 L819.5,298.1 L819.8,297.9 L820.6,296.5 L821.5,295.8 L822.4,295.6 L823.2,294.6 L823.8,293.8 L824.1,293.8 L825.0,294.2 L825.9,293.1 L826.7,292.8 L827.6,292.2 L828.5,292.5 L829.2,291.6 L829.3,291.5 L830.2,291.2 L831.1,290.6 L831.9,291.5 L832.8,289.3 L833.7,289.7 L834.5,289.5 L834.6,289.5 L835.4,288.6 L836.3,289.4 L837.2,288.0 L838.0,287.5 L838.9,287.3 L839.8,287.6 L840.6,287.6 L841.5,287.9 L841.7,288.0 L842.4,288.7 L843.2,289.6 L844.1,289.5 L844.8,290.5 L845.0,290.2 L845.9,288.7 L846.7,287.5 L847.6,286.6 L848.5,284.3 L849.3,283.2 L849.7,283.0 L850.2,283.7 L851.1,285.0 L852.0,287.4 L852.5,288.4 L852.8,288.3 L853.7,287.8 L854.6,285.7 L855.4,285.1 L856.2,285.1 L856.3,285.2 L857.2,285.6 L858.0,285.4 L858.9,286.4 L859.5,286.6 L859.8,287.1 L860.6,288.4 L861.5,289.3 L862.0,289.5 L862.4,291.7 L863.3,296.2 L864.1,301.0 L864.4,302.4 L865.0,300.3 L865.9,296.8 L866.4,294.9 L866.7,294.7 L867.6,294.6 L868.5,294.1 L869.4,294.3 L869.8,294.4 L870.2,295.2 L871.1,297.0 L872.0,299.1 L872.0,299.2 L872.8,297.1 L873.7,296.3 L874.2,294.9 L874.6,295.9 L875.4,298.2 L876.3,298.8 L877.2,301.1 L877.8,302.4 L878.0,302.0 L878.9,301.2 L879.8,300.1 L880.6,299.2 L880.7,299.1 L881.5,296.9 L882.4,297.0 L883.3,295.6 L883.7,294.9 L884.1,295.9 L885.0,297.6 L885.8,299.2 L885.9,299.3 L886.8,300.3 L887.6,302.1 L888.5,303.9 L889.4,305.1 L889.7,305.7 L890.2,304.8 L891.1,304.6 L891.9,303.5 L892.0,303.3 L892.8,301.4 L893.7,298.6 L894.5,296.0 L894.6,295.8 L895.5,294.3 L896.3,291.7 L897.2,289.6 L897.3,289.5 L898.1,290.0 L898.9,291.1 L899.8,292.2 L900.1,292.7 L900.7,290.7 L901.5,287.8 L902.4,284.9 L902.7,284.0 L903.3,283.6 L904.1,283.1 L905.0,282.8 L905.9,282.3 L906.6,281.9 L906.8,281.8 L907.6,281.6 L908.5,281.5 L909.2,281.5 L909.4,282.1 L910.2,284.7 L910.9,286.6 L911.1,286.2 L912.0,283.9 L912.9,281.9 L913.0,281.5 L913.7,280.6 L914.6,279.0 L915.2,278.0" fill="none" stroke="#c60000" stroke-width="0.95" stroke-linejoin="round"/>
<path d="M12.4,359.4 L13.3,359.2 L14.1,359.1 L15.0,358.6 L15.9,358.4 L16.8,358.4 L17.6,358.0 L18.5,357.8 L19.4,357.8 L20.2,357.6 L21.1,357.2 L21.4,357.1 L22.0,356.9 L22.8,356.4 L23.7,356.3 L24.6,356.3 L25.4,355.9 L26.3,355.9 L27.2,355.4 L28.0,355.2 L28.1,355.2 L28.9,355.5 L29.8,355.8 L30.7,356.1 L31.3,356.4 L31.5,356.4 L32.4,356.2 L33.3,355.6 L34.1,356.3 L35.0,356.1 L35.9,355.4 L36.8,355.8 L37.6,355.1 L38.5,355.1 L39.4,354.3 L40.2,354.3 L40.2,354.3 L41.1,354.1 L42.0,353.3 L42.9,353.7 L43.7,352.9 L44.6,352.7 L45.5,352.7 L46.3,352.8 L47.2,352.2 L48.1,351.4 L48.9,351.7 L49.8,351.4 L50.0,351.4 L50.7,351.7 L51.5,351.9 L52.4,352.4 L53.3,352.5 L54.1,353.0 L54.2,352.9 L55.0,352.9 L55.9,351.7 L56.8,351.8 L57.6,351.9 L58.5,351.5 L59.0,351.3 L59.4,351.6 L60.2,351.7 L61.1,351.9 L62.0,352.2 L62.9,352.0 L63.7,352.3 L64.0,352.4 L64.6,352.5 L65.5,352.8 L66.3,353.0 L67.2,353.1 L68.1,354.0 L69.0,353.8 L69.8,353.9 L70.5,354.0 L70.7,353.9 L71.6,353.3 L72.4,353.6 L73.3,353.1 L74.2,352.4 L75.0,352.7 L75.9,352.4 L76.8,351.7 L77.7,351.8 L78.5,351.2 L78.7,351.2 L79.4,351.2 L80.3,351.1 L81.1,351.3 L82.0,350.6 L82.9,350.1 L83.7,350.4 L84.6,350.3 L85.5,350.2 L86.3,349.9 L87.2,349.8 L88.1,349.6 L88.5,349.5 L89.0,349.2 L89.8,348.7 L90.7,348.5 L91.6,348.1 L92.4,347.5 L93.3,347.3 L93.4,347.2 L94.2,347.1 L95.0,347.1 L95.9,347.8 L96.8,348.1 L97.7,347.6 L98.5,348.3 L99.4,348.6 L100.3,348.4 L101.1,348.6 L102.0,349.2 L102.9,348.9 L103.2,348.9 L103.8,348.7 L104.6,348.0 L105.5,347.8 L106.4,347.1 L107.2,346.5 L108.1,346.3 L109.0,346.2 L109.8,345.5 L110.7,344.9 L111.4,344.7 L111.6,344.7 L112.5,344.5 L113.3,344.3 L114.2,344.3 L115.1,343.7 L115.9,343.5 L116.8,343.3 L117.7,342.6 L118.5,342.3 L119.4,342.2 L119.5,342.1 L120.3,342.4 L121.2,342.2 L122.0,343.0 L122.9,343.0 L123.8,343.4 L124.4,343.8 L124.6,343.7 L125.5,342.8 L126.4,342.5 L127.2,342.0 L128.1,341.5 L129.0,340.8 L129.8,340.6 L130.0,340.5 L130.7,340.5 L131.6,340.2 L132.5,339.5 L133.3,339.0 L134.2,338.7 L135.1,338.7 L135.9,338.4 L136.8,337.7 L137.7,337.8 L138.0,337.7 L138.6,337.5 L139.4,336.7 L140.3,337.3 L141.2,336.4 L142.0,335.7 L142.9,335.7 L143.8,335.4 L144.6,334.9 L145.5,334.6 L146.4,334.2 L147.2,334.1 L148.1,333.6 L148.4,333.6 L149.0,334.2 L149.9,334.4 L150.7,334.2 L151.6,335.5 L152.5,336.0 L153.3,336.3 L153.8,336.6 L154.2,336.5 L155.1,336.4 L155.9,336.4 L156.8,336.3 L157.7,335.9 L158.6,335.9 L159.4,335.9 L160.0,335.8 L160.3,335.8 L161.2,335.7 L162.0,335.3 L162.9,334.5 L163.8,334.4 L164.7,334.2 L165.5,334.1 L166.4,333.7 L167.3,333.4 L168.0,333.0 L168.1,333.0 L169.0,332.3 L169.9,333.0 L170.7,332.0 L171.6,332.4 L172.5,332.0 L173.3,331.5 L174.2,330.4 L175.1,330.2 L176.0,329.7 L176.8,330.0 L177.7,329.6 L178.4,329.3 L178.6,329.2 L179.4,328.6 L180.3,328.5 L181.2,328.5 L182.1,328.0 L182.9,327.9 L183.8,327.8 L184.7,327.1 L185.5,327.0 L186.0,327.1 L186.4,326.7 L187.3,326.9 L188.1,326.1 L189.0,325.6 L189.9,325.0 L190.8,324.7 L191.6,324.0 L192.5,324.4 L193.4,323.9 L194.2,323.5 L195.1,322.9 L196.0,322.2 L196.8,321.7 L196.8,321.7 L197.7,321.9 L198.6,322.5 L199.4,323.2 L200.3,322.6 L201.2,322.8 L202.0,322.8 L202.1,322.9 L202.9,324.1 L203.8,325.2 L204.7,326.0 L205.5,326.8 L206.4,327.7 L206.5,327.8 L207.3,327.5 L208.2,327.3 L209.0,326.3 L209.9,326.9 L210.8,326.2 L211.6,324.7 L212.5,324.0 L213.0,323.5 L213.4,323.6 L214.2,324.3 L215.1,324.0 L216.0,324.6 L216.8,325.2 L217.7,324.9 L218.4,325.0 L218.6,325.1 L219.5,325.6 L220.3,326.5 L221.2,326.3 L222.1,326.0 L222.9,326.8 L223.8,327.1 L223.8,327.1 L224.7,328.3 L225.6,330.3 L226.4,330.6 L227.3,331.7 L228.2,332.3 L229.0,333.3 L229.2,333.6 L229.9,333.7 L230.8,334.3 L231.6,335.7 L232.5,335.5 L233.4,336.4 L233.5,336.5 L234.2,336.0 L235.1,336.0 L236.0,334.5 L236.9,333.8 L237.7,333.6 L238.6,332.7 L239.5,331.9 L240.3,331.5 L240.4,331.5 L241.2,332.5 L242.1,333.2 L242.9,334.6 L243.8,335.5 L244.7,336.7 L245.6,337.3 L246.4,337.9 L246.5,338.0 L247.3,337.6 L248.2,337.4 L249.0,337.6 L249.9,337.0 L250.8,336.6 L251.7,336.9 L252.5,337.3 L253.0,336.9 L253.4,337.4 L254.3,338.6 L255.1,338.8 L256.0,340.0 L256.9,340.9 L257.3,341.2 L257.7,343.0 L258.6,346.3 L259.5,349.4 L259.5,349.5 L260.4,350.9 L261.2,351.9 L262.1,353.0 L262.7,353.8 L263.0,353.7 L263.8,353.3 L264.7,353.0 L265.6,352.8 L266.0,352.7 L266.4,352.4 L267.3,351.9 L268.2,351.9 L269.1,351.6 L269.2,351.6 L269.9,352.2 L270.8,353.0 L271.7,353.3 L272.4,353.8 L272.5,353.9 L273.4,354.6 L274.3,355.5 L275.1,355.8 L276.0,356.3 L276.8,357.0 L276.9,356.9 L277.8,355.7 L278.6,355.2 L279.5,353.9 L280.4,353.5 L281.0,352.7 L281.2,352.5 L282.1,351.6 L283.0,351.1 L283.8,351.0 L284.7,350.0 L285.4,349.5 L285.6,349.5 L286.4,349.5 L287.3,349.1 L288.2,349.6 L289.1,349.5 L289.7,349.5 L289.9,349.2 L290.8,348.5 L291.7,348.2 L292.5,347.1 L293.4,346.7 L294.0,346.2 L294.3,346.1 L295.1,345.7 L296.0,344.7 L296.9,344.0 L297.8,343.9 L298.6,343.8 L299.5,343.0 L300.4,342.4 L300.5,342.3 L301.2,342.5 L302.1,342.5 L303.0,342.2 L303.9,341.9 L304.7,342.3 L305.6,342.9 L306.5,342.8 L307.0,342.9 L307.3,342.7 L308.2,342.5 L309.1,341.9 L309.9,341.4 L310.0,341.4 L310.8,341.3 L311.7,341.3 L312.6,341.9 L313.4,342.2 L314.3,342.4 L315.2,341.8 L316.0,342.4 L316.9,341.6 L317.8,342.0 L318.6,342.4 L318.6,342.4 L319.5,341.9 L320.4,341.5 L321.2,341.2 L322.1,340.9 L323.0,340.3 L323.9,340.3 L324.7,339.8 L325.6,339.0 L326.5,338.9 L326.9,338.8 L327.3,339.3 L328.2,339.8 L329.1,341.1 L329.9,341.8 L330.5,342.4 L330.8,342.4 L331.7,342.3 L332.6,342.5 L333.4,342.1 L334.3,341.4 L335.2,340.9 L336.0,341.1 L336.9,340.8 L337.8,341.2 L338.6,340.9 L339.5,340.7 L340.3,340.3 L340.4,340.3 L341.3,339.7 L342.1,339.4 L343.0,338.8 L343.9,338.5 L344.7,339.1 L345.6,338.7 L346.5,338.5 L347.4,338.3 L348.2,338.3 L349.1,338.0 L350.0,337.5 L350.0,337.5 L350.8,337.1 L351.7,337.3 L352.6,337.0 L353.4,336.2 L354.3,335.7 L355.2,335.8 L356.1,335.5 L356.5,335.3 L356.9,335.2 L357.8,335.7 L358.7,335.1 L359.5,334.6 L360.4,335.2 L361.3,334.1 L362.1,334.1 L363.0,333.6 L363.9,334.2 L364.8,333.5 L365.1,333.4 L365.6,333.5 L366.5,333.7 L367.4,333.3 L368.2,334.0 L369.1,334.8 L370.0,334.3 L370.8,334.0 L371.7,333.8 L372.6,334.0 L373.4,334.3 L373.8,334.4 L374.3,334.5 L375.2,334.1 L376.1,335.3 L376.9,335.2 L377.8,334.7 L378.7,335.8 L379.5,335.5 L380.4,335.8 L381.3,335.9 L382.1,336.0 L382.4,336.0 L383.0,337.2 L383.9,338.7 L384.8,339.6 L385.6,341.5 L386.5,343.0 L386.8,343.5 L387.4,343.7 L388.2,344.2 L389.1,344.4 L390.0,344.8 L390.9,344.9 L391.7,345.2 L391.7,345.2 L392.6,344.0 L393.5,342.7 L394.3,341.9 L395.2,341.5 L396.1,340.9 L396.5,340.3 L396.9,340.7 L397.8,341.5 L398.7,342.3 L399.6,343.4 L399.7,343.5 L400.4,343.2 L401.3,342.6 L402.2,341.2 L403.0,340.3 L403.9,339.7 L404.8,338.6 L405.6,337.9 L406.2,337.5 L406.5,337.3 L407.4,337.0 L408.2,336.3 L409.1,336.8 L410.0,335.9 L410.9,335.4 L411.7,335.3 L412.6,334.9 L413.5,334.6 L413.8,334.4 L414.3,334.5 L415.2,335.1 L416.1,335.9 L416.9,336.0 L417.8,336.8 L418.7,337.8 L419.6,338.5 L420.4,338.5 L421.3,339.3 L422.2,340.1 L422.4,340.3 L423.0,339.9 L423.9,338.8 L424.8,338.5 L425.6,338.4 L426.5,337.4 L427.4,337.1 L428.3,336.8 L429.1,335.5 L430.0,334.8 L430.9,334.5 L431.0,334.4 L431.7,334.0 L432.6,333.9 L433.5,333.2 L434.4,333.4 L435.2,332.9 L436.1,333.2 L437.0,333.6 L437.8,332.7 L438.7,333.0 L439.6,332.5 L440.4,331.8 L440.8,331.6 L441.3,331.7 L442.2,332.5 L443.1,333.0 L443.9,333.8 L444.0,333.8 L444.8,333.6 L445.7,333.0 L446.5,332.2 L447.4,332.7 L448.3,331.6 L449.1,331.2 L450.0,330.3 L450.9,330.0 L451.8,329.2 L452.6,328.8 L452.7,328.8 L453.5,328.5 L454.4,328.0 L455.2,327.7 L456.1,327.5 L457.0,327.3 L457.8,326.9 L458.7,326.7 L459.2,326.6 L459.6,326.8 L460.4,327.5 L461.3,327.9 L462.2,328.7 L462.4,328.8 L463.1,327.9 L463.9,327.2 L464.8,325.6 L465.7,324.6 L466.0,324.3 L466.5,324.4 L467.4,325.1 L468.3,325.9 L469.1,326.9 L470.0,327.5 L470.8,328.2 L470.9,328.1 L471.8,327.9 L472.6,327.1 L473.5,327.0 L474.4,326.3 L475.2,326.2 L476.1,325.3 L477.0,324.9 L477.9,324.0 L478.7,323.6 L479.6,323.2 L480.5,322.8 L481.3,322.4 L481.6,322.2 L482.2,322.0 L483.1,322.0 L483.9,321.2 L484.8,321.2 L485.7,321.3 L486.6,321.5 L487.4,321.3 L488.3,320.9 L489.2,320.0 L490.0,320.9 L490.9,320.6 L491.8,320.4 L492.4,320.0 L492.6,320.0 L493.5,319.8 L494.4,319.0 L495.2,319.0 L496.1,318.4 L497.0,318.4 L497.9,317.8 L498.7,317.7 L499.6,317.1 L500.5,316.6 L501.0,316.8 L501.3,316.7 L502.2,316.3 L503.1,316.9 L503.9,316.2 L504.8,315.3 L505.7,315.5 L506.6,314.9 L507.4,314.3 L508.3,314.2 L509.2,314.4 L510.0,314.4 L510.9,314.2 L511.8,314.0 L512.6,313.9 L513.5,314.0 L514.4,313.2 L515.1,313.0 L515.3,313.1 L516.1,313.7 L517.0,313.4 L517.9,314.9 L518.7,314.7 L519.6,315.8 L520.5,316.2 L521.4,316.7 L521.6,316.8 L522.2,316.7 L523.1,316.4 L524.0,314.8 L524.8,314.6 L524.9,314.6 L525.7,315.0 L526.6,315.6 L527.4,316.3 L528.3,317.3 L529.2,317.7 L530.0,318.1 L530.3,318.3 L530.9,318.0 L531.8,316.9 L532.7,316.0 L533.5,314.8 L534.4,314.3 L535.3,313.3 L536.1,313.3 L536.8,312.4 L537.0,312.5 L537.9,311.8 L538.8,312.8 L539.6,312.9 L540.0,313.0 L540.5,312.1 L541.4,310.5 L542.2,310.2 L543.1,308.9 L543.2,308.8 L544.0,308.0 L544.8,306.3 L545.7,306.0 L546.6,304.4 L547.5,302.9 L547.6,302.7 L548.3,302.2 L549.2,301.3 L550.1,300.1 L550.9,299.0 L551.8,298.5 L551.9,298.4 L552.7,297.8 L553.5,298.1 L554.4,298.2 L555.3,299.4 L556.1,299.5 L556.2,299.5 L557.0,299.7 L557.9,299.8 L558.8,301.1 L559.6,300.9 L560.5,301.0 L561.4,300.5 L562.2,300.1 L563.1,300.0 L564.0,298.6 L564.2,298.4 L564.9,299.2 L565.7,300.3 L566.6,300.4 L567.0,301.0 L567.5,302.1 L568.3,303.2 L569.2,305.2 L570.1,306.6 L570.3,307.0 L570.9,307.3 L571.8,307.8 L572.7,308.9 L573.5,309.2 L573.5,309.1 L574.4,307.6 L575.3,305.1 L576.2,304.5 L576.8,303.8 L577.0,303.5 L577.9,302.8 L578.8,302.8 L579.6,302.1 L580.0,302.3 L580.5,302.5 L581.4,302.8 L582.2,303.5 L583.1,304.5 L583.7,304.9 L584.0,305.6 L584.9,308.1 L585.7,310.0 L586.5,311.4 L586.6,311.5 L587.5,313.0 L588.3,314.4 L589.2,315.1 L589.7,315.7 L590.1,315.1 L591.0,313.7 L591.8,312.5 L592.7,311.9 L593.0,311.4 L593.6,311.1 L594.4,310.8 L595.3,310.1 L596.2,309.6 L597.0,309.9 L597.3,309.6 L597.9,309.9 L598.8,309.8 L599.6,309.1 L600.5,308.3 L601.4,309.0 L602.3,308.1 L602.7,308.1 L603.1,308.4 L604.0,309.2 L604.9,309.1 L605.7,310.3 L606.6,311.7 L607.5,312.1 L608.1,312.4 L608.4,312.1 L609.2,312.0 L610.1,310.6 L611.0,310.3 L611.8,309.8 L612.7,309.0 L613.5,308.8 L613.6,308.6 L614.3,306.5 L614.4,306.6 L615.3,307.2 L616.2,306.8 L617.0,307.3 L617.9,308.9 L618.8,308.8 L619.7,309.1 L620.5,309.6 L621.4,309.6 L622.3,309.9 L623.0,310.8 L623.1,310.6 L624.0,309.6 L624.9,309.2 L625.8,308.3 L626.6,306.6 L627.5,305.7 L628.4,304.9 L629.2,304.7 L629.5,304.3 L630.1,303.8 L631.0,303.2 L631.8,303.3 L632.7,303.4 L633.6,302.8 L634.5,302.3 L635.3,302.3 L636.2,300.5 L637.1,300.7 L637.9,300.1 L638.1,300.0 L638.8,299.6 L639.7,298.5 L640.5,298.4 L641.4,298.2 L642.3,298.0 L643.1,295.7 L644.0,294.7 L644.9,294.3 L645.7,293.5 L645.8,293.6 L646.6,293.7 L647.5,294.8 L648.4,294.2 L649.2,295.5 L650.1,295.1 L651.0,295.8 L651.9,295.3 L652.2,295.7 L652.7,295.5 L653.6,296.6 L654.5,295.8 L655.3,297.7 L656.2,297.1 L657.1,297.8 L657.9,298.8 L658.6,298.9 L658.8,298.8 L659.7,298.1 L660.5,297.6 L661.4,296.7 L662.3,296.6 L663.2,296.0 L664.0,295.3 L664.9,294.4 L665.1,294.2 L665.8,294.1 L666.6,293.7 L667.5,292.5 L668.4,294.6 L669.2,294.3 L670.1,294.5 L671.0,294.5 L671.9,294.0 L672.7,294.2 L672.7,294.2 L673.6,294.0 L674.5,293.2 L675.3,292.9 L676.2,292.2 L677.1,290.8 L678.0,291.6 L678.1,291.4 L678.8,293.5 L679.7,295.4 L680.6,297.5 L680.9,298.5 L681.4,298.4 L682.3,298.1 L683.2,297.7 L684.0,297.6 L684.9,298.7 L685.2,298.9 L685.8,298.3 L686.6,297.1 L687.5,296.5 L688.4,295.4 L689.3,293.5 L690.1,293.0 L691.0,292.5 L691.7,291.4 L691.9,291.4 L692.7,291.4 L693.6,291.5 L694.5,292.1 L695.4,292.5 L696.2,293.2 L696.5,293.5 L697.1,292.8 L698.0,293.2 L698.8,292.0 L699.7,292.0 L700.6,291.7 L701.4,291.5 L701.9,291.4 L702.3,291.8 L703.2,292.2 L704.0,293.1 L704.9,292.8 L705.8,294.1 L706.2,294.2 L706.7,293.8 L707.5,293.9 L708.4,292.4 L709.3,294.2 L710.1,295.6 L711.0,297.0 L711.6,298.5 L711.9,298.4 L712.8,298.3 L713.6,298.7 L714.5,298.0 L714.9,297.8 L715.4,298.6 L716.2,300.0 L717.1,300.8 L718.0,302.1 L718.8,302.8 L719.7,304.2 L719.8,304.3 L720.6,302.9 L721.5,301.4 L722.3,300.7 L723.2,299.3 L724.1,297.7 L724.6,296.8 L724.9,296.5 L725.8,295.7 L726.7,295.1 L727.5,294.6 L728.4,293.5 L729.3,292.8 L730.0,292.4 L730.1,292.3 L731.0,290.7 L731.9,290.2 L732.8,290.6 L733.6,288.9 L734.3,288.5 L734.5,288.7 L735.4,289.3 L736.2,290.1 L737.1,290.5 L738.0,292.6 L738.9,291.7 L739.3,292.4 L739.7,291.9 L740.6,290.4 L741.5,290.2 L742.3,289.3 L743.2,288.8 L744.1,287.8 L744.9,287.1 L745.1,287.0 L745.8,288.4 L746.7,289.4 L747.5,290.4 L748.4,292.1 L748.8,292.9 L749.3,292.2 L750.2,290.8 L751.0,288.3 L751.9,287.9 L752.8,286.4 L753.1,286.0 L753.6,287.0 L754.5,288.5 L754.9,289.2 L755.4,288.9 L756.2,288.3 L757.1,287.5 L758.0,286.2 L758.9,285.5 L759.7,283.5 L760.3,282.7 L760.6,282.5 L761.5,282.5 L762.3,281.3 L763.2,279.6 L764.1,279.6 L765.0,279.0 L765.4,278.6 L765.8,278.1 L766.7,278.6 L767.6,277.3 L768.4,277.1 L769.3,276.4 L769.7,276.5 L770.2,276.9 L771.0,277.8 L771.9,278.6 L771.9,278.7 L772.8,288.4 L773.4,294.9 L773.6,296.6 L774.5,302.2 L775.4,308.6 L775.6,310.0 L776.3,308.0 L777.1,305.7 L777.7,303.5 L778.0,303.1 L778.9,301.5 L779.7,300.2 L780.5,299.2 L780.6,299.0 L781.5,297.1 L782.4,297.4 L782.7,297.0 L783.2,295.6 L784.1,292.7 L784.9,289.5 L785.0,289.6 L785.8,290.8 L786.7,292.2 L787.0,292.7 L787.6,292.7 L788.4,293.0 L789.3,292.9 L790.2,291.6 L791.0,290.5 L791.9,291.0 L792.4,291.0 L792.8,290.9 L793.7,291.4 L794.5,291.6 L795.4,291.5 L796.3,291.5 L796.8,291.6 L797.1,291.3 L798.0,290.6 L798.9,290.1 L799.8,289.7 L800.0,289.5 L800.6,290.6 L801.5,292.2 L802.4,294.2 L802.8,294.9 L803.2,293.5 L804.1,289.9 L805.0,286.3 L805.0,286.2 L805.8,285.4 L806.7,285.3 L807.6,284.9 L808.5,282.9 L809.3,282.0 L809.7,281.9 L810.2,281.4 L811.1,280.0 L811.9,280.1 L812.8,278.8 L813.0,278.6 L813.7,278.9 L814.5,278.7 L815.4,279.2 L815.8,279.7 L816.3,278.9 L817.1,278.0 L818.0,277.0 L818.9,276.3 L819.5,275.4 L819.8,275.2 L820.6,273.4 L821.5,272.6 L822.4,272.2 L823.2,270.9 L823.8,270.0 L824.1,269.9 L825.0,270.3 L825.9,268.7 L826.7,268.3 L827.6,267.4 L828.5,267.5 L829.2,266.3 L829.3,266.2 L830.2,265.6 L831.1,264.7 L831.9,265.4 L832.8,262.7 L833.7,262.9 L834.5,262.4 L834.6,262.4 L835.4,261.2 L836.3,262.0 L837.2,260.2 L838.0,259.6 L838.9,259.2 L839.8,259.6 L840.6,259.8 L841.5,260.1 L841.7,260.3 L842.4,261.1 L843.2,262.4 L844.1,262.2 L844.8,263.5 L845.0,263.2 L845.9,261.5 L846.7,260.3 L847.6,259.4 L848.5,256.8 L849.3,255.7 L849.7,255.5 L850.2,256.1 L851.1,257.1 L852.0,259.4 L852.5,260.3 L852.8,260.1 L853.7,259.1 L854.6,256.3 L855.4,255.2 L856.2,254.9 L856.3,255.0 L857.2,256.0 L858.0,256.3 L858.9,257.9 L859.5,258.5 L859.8,259.0 L860.6,259.9 L861.5,260.3 L862.0,260.3 L862.4,262.2 L863.3,265.8 L864.1,269.9 L864.4,271.0 L865.0,268.6 L865.9,264.6 L866.4,262.4 L866.7,262.1 L867.6,261.9 L868.5,261.1 L869.4,261.3 L869.8,261.4 L870.2,262.5 L871.1,264.9 L872.0,267.7 L872.0,267.8 L872.8,266.0 L873.7,265.8 L874.2,264.6 L874.6,265.9 L875.4,268.8 L876.3,269.6 L877.2,272.6 L877.8,274.3 L878.0,273.8 L878.9,272.7 L879.8,271.2 L880.6,270.0 L880.7,269.9 L881.5,267.1 L882.4,267.3 L883.3,265.5 L883.7,264.6 L884.1,265.7 L885.0,267.3 L885.8,268.9 L885.9,269.0 L886.8,270.5 L887.6,272.7 L888.5,275.2 L889.4,276.8 L889.7,277.6 L890.2,276.9 L891.1,277.2 L891.9,276.5 L892.0,276.3 L892.8,274.1 L893.7,270.8 L894.5,267.8 L894.6,267.6 L895.5,266.5 L896.3,264.2 L897.2,262.5 L897.3,262.4 L898.1,263.1 L898.9,264.7 L899.8,266.1 L900.1,266.8 L900.7,265.0 L901.5,262.5 L902.4,259.9 L902.7,259.2 L903.3,258.6 L904.1,258.0 L905.0,257.6 L905.9,256.9 L906.6,256.4 L906.8,256.4 L907.6,256.5 L908.5,256.8 L909.2,257.0 L909.4,257.7 L910.2,261.0 L910.9,263.5 L911.1,262.9 L912.0,260.0 L912.9,257.5 L913.0,257.0 L913.7,256.2 L914.6,254.4 L915.2,253.4" fill="none" stroke="#b0a218" stroke-width="1" stroke-dasharray="1.2 0.9" stroke-linejoin="round"/>
<path d="M12.4,359.5 L13.3,359.3 L14.1,359.2 L15.0,358.7 L15.9,358.6 L16.8,358.6 L17.4,358.4 L17.6,358.4 L18.5,358.2 L19.4,358.4 L20.2,358.4 L21.1,358.1 L21.4,358.1 L22.0,357.7 L22.8,357.0 L23.7,356.6 L24.6,356.4 L25.4,355.8 L26.3,355.6 L27.2,354.8 L28.0,354.3 L28.1,354.3 L28.9,354.4 L29.8,354.5 L30.7,354.6 L31.3,354.8 L31.5,354.7 L32.4,354.3 L33.3,353.4 L34.1,353.5 L34.5,353.2 L35.0,353.5 L35.9,353.4 L36.8,354.2 L37.6,353.7 L38.5,354.0 L39.4,353.5 L40.2,353.8 L40.2,353.8 L41.1,353.3 L42.0,352.1 L42.9,352.3 L43.7,351.1 L44.6,350.8 L45.1,350.6 L45.5,350.4 L46.3,350.4 L47.2,349.6 L48.1,348.6 L48.9,348.7 L49.8,348.4 L50.0,348.3 L50.7,348.8 L51.5,349.2 L52.4,349.9 L52.5,349.9 L53.3,349.3 L54.2,349.1 L55.0,348.6 L55.0,348.6 L55.9,348.4 L56.8,348.9 L57.6,349.6 L58.5,349.8 L59.4,350.3 L59.9,350.2 L60.2,350.1 L61.1,349.9 L62.0,349.6 L62.9,348.9 L63.7,348.7 L64.0,348.6 L64.6,348.8 L65.5,349.1 L66.3,349.3 L67.2,349.5 L68.1,350.6 L69.0,350.3 L69.8,350.5 L70.5,350.6 L70.7,350.4 L71.6,349.8 L72.4,350.1 L73.3,349.5 L74.2,348.8 L75.0,348.8 L75.4,348.6 L75.9,348.6 L76.8,348.1 L77.7,348.4 L78.5,347.2 L79.4,347.9 L80.3,347.6 L81.1,347.6 L81.9,347.0 L82.0,347.0 L82.9,346.3 L83.7,346.4 L84.6,346.1 L85.5,345.9 L86.3,345.3 L87.2,345.1 L88.1,344.7 L88.5,344.5 L89.0,344.1 L89.8,343.4 L90.7,343.0 L91.6,342.4 L92.4,341.7 L93.3,341.3 L93.4,341.2 L94.2,341.0 L95.0,341.0 L95.9,341.9 L96.8,342.1 L97.7,341.8 L98.3,342.1 L98.5,341.9 L99.4,341.1 L99.9,340.4 L100.3,340.7 L101.1,341.6 L102.0,343.0 L102.9,343.2 L103.2,343.4 L103.8,343.0 L104.6,342.2 L105.5,341.7 L106.4,340.8 L107.2,340.0 L108.1,339.6 L109.0,339.5 L109.8,338.9 L110.7,338.3 L111.6,338.6 L112.5,338.2 L113.3,337.9 L114.2,337.5 L114.6,337.2 L115.1,337.0 L115.9,336.8 L116.8,336.4 L117.7,335.5 L118.5,335.1 L119.4,334.8 L119.5,334.7 L120.3,334.6 L121.2,334.3 L122.0,334.7 L122.0,334.7 L122.9,335.7 L123.8,336.9 L124.4,338.0 L124.6,337.7 L125.5,336.2 L126.4,335.4 L127.2,334.4 L127.7,333.9 L128.1,333.6 L129.0,332.6 L129.8,332.4 L130.0,332.2 L130.7,332.3 L131.6,331.9 L132.5,331.2 L133.2,330.9 L133.3,330.8 L134.2,329.9 L135.1,329.7 L135.9,329.0 L136.8,328.0 L137.7,327.9 L138.0,327.7 L138.6,327.3 L139.4,326.2 L140.3,326.8 L141.2,325.4 L142.0,324.4 L142.9,324.3 L143.0,324.2 L143.8,323.7 L144.6,322.9 L145.5,322.4 L146.4,321.8 L147.2,321.6 L148.1,320.9 L148.4,320.8 L149.0,321.9 L149.9,322.7 L150.7,323.7 L151.0,324.2 L151.6,325.0 L152.5,326.2 L153.3,327.2 L153.8,327.7 L154.2,327.3 L155.1,326.7 L155.9,326.2 L156.8,325.4 L157.0,325.2 L157.7,324.8 L158.6,324.4 L159.4,324.2 L160.3,324.2 L161.2,323.6 L161.4,323.4 L162.0,323.0 L162.9,321.9 L163.8,321.5 L164.7,321.0 L165.0,320.7 L165.5,320.4 L166.4,319.9 L167.3,319.2 L168.1,318.6 L168.6,318.0 L169.0,317.5 L169.9,317.9 L170.7,316.4 L171.6,316.7 L172.5,315.4 L173.0,314.7 L173.3,314.6 L174.2,313.5 L175.1,313.1 L176.0,312.3 L176.8,312.6 L177.7,312.0 L178.4,311.5 L178.6,311.3 L179.4,310.2 L180.3,309.8 L181.2,309.5 L182.1,308.6 L182.9,308.1 L183.8,307.6 L183.8,307.6 L184.7,308.0 L185.5,308.1 L186.4,309.5 L187.0,310.4 L187.3,310.2 L188.1,309.2 L189.0,308.2 L189.9,307.1 L190.8,306.4 L191.6,305.2 L192.4,304.6 L192.5,304.6 L193.4,304.5 L194.2,304.1 L195.1,303.2 L196.0,302.4 L196.8,301.7 L196.8,301.7 L197.7,302.0 L198.6,302.9 L199.4,303.2 L200.0,302.8 L200.3,302.7 L201.2,302.7 L202.0,302.2 L202.1,302.4 L202.9,304.5 L203.8,306.4 L204.7,308.0 L205.5,309.7 L206.4,311.4 L206.5,311.5 L207.3,312.6 L208.2,313.4 L208.6,313.6 L209.0,313.1 L209.9,313.4 L210.8,312.0 L211.6,309.5 L212.5,308.2 L213.0,307.2 L213.4,307.3 L214.2,308.2 L215.1,307.9 L215.8,308.2 L216.0,308.6 L216.8,311.0 L217.7,312.3 L218.4,313.6 L218.6,313.4 L219.5,312.8 L220.3,311.8 L220.5,311.5 L221.2,312.8 L222.1,313.5 L222.9,315.6 L223.8,316.9 L223.8,316.9 L224.7,318.8 L225.6,321.8 L226.4,322.4 L227.0,323.4 L227.3,323.4 L228.2,322.9 L229.0,322.0 L229.9,322.1 L230.3,322.2 L230.8,322.5 L231.6,324.1 L232.5,324.0 L233.4,325.4 L233.5,325.5 L234.2,324.6 L235.1,324.2 L236.0,322.1 L236.8,321.2 L236.9,321.1 L237.7,320.5 L238.6,319.5 L239.5,318.5 L240.3,318.1 L240.4,318.0 L241.2,319.7 L242.1,321.1 L242.9,323.0 L243.2,323.4 L243.8,325.1 L244.7,327.7 L245.6,329.5 L246.4,331.2 L246.5,331.4 L247.3,330.2 L248.2,329.1 L249.0,328.5 L249.7,327.7 L249.9,327.5 L250.8,326.7 L251.7,326.8 L252.5,327.1 L253.0,326.6 L253.4,327.4 L254.3,329.3 L255.1,330.0 L256.0,331.7 L256.2,332.0 L256.9,335.9 L257.7,340.6 L258.4,343.9 L258.6,344.3 L259.5,345.7 L260.4,347.0 L260.5,347.2 L261.2,349.0 L262.1,351.2 L262.7,352.6 L263.0,352.4 L263.8,351.7 L264.7,351.2 L265.6,350.7 L266.0,350.4 L266.4,349.9 L267.3,349.1 L268.2,348.9 L269.1,348.3 L269.2,348.2 L269.9,349.1 L270.8,350.2 L271.7,350.7 L272.4,351.5 L272.5,351.7 L273.4,352.6 L274.3,353.6 L275.1,354.1 L275.7,354.7 L276.0,354.8 L276.9,355.1 L277.8,355.8 L277.8,355.8 L278.6,353.9 L279.5,351.4 L280.4,349.9 L281.0,348.2 L281.2,347.9 L282.1,346.2 L283.0,345.1 L283.8,344.5 L284.7,342.7 L285.4,341.7 L285.6,341.8 L286.4,342.2 L287.3,342.2 L288.2,343.3 L289.1,343.6 L289.7,343.9 L289.9,343.4 L290.8,342.1 L291.7,341.2 L292.5,339.4 L293.4,338.4 L294.0,337.4 L294.3,337.2 L295.1,336.7 L296.0,335.4 L296.9,334.4 L297.8,334.2 L298.6,334.1 L299.5,332.9 L300.4,332.1 L300.5,332.0 L301.2,331.6 L302.1,331.1 L303.0,330.2 L303.8,329.9 L303.9,329.9 L304.7,330.5 L305.6,331.9 L306.5,332.6 L307.0,333.3 L307.3,333.1 L308.2,332.9 L309.1,332.4 L309.9,331.6 L310.8,331.3 L311.4,331.2 L311.7,330.9 L312.6,330.2 L313.4,329.5 L314.3,328.2 L314.3,328.2 L315.2,328.8 L316.0,330.2 L316.9,329.9 L317.8,331.2 L318.2,331.8 L318.6,331.2 L319.5,329.8 L320.4,328.8 L321.2,327.7 L322.1,326.6 L323.0,325.4 L323.0,325.4 L323.9,324.9 L324.7,324.0 L325.6,322.7 L326.5,322.5 L326.9,322.1 L327.3,323.2 L328.2,324.6 L329.1,327.1 L329.9,328.7 L330.5,330.0 L330.8,329.7 L331.7,328.8 L332.6,328.3 L333.4,326.7 L333.8,326.1 L334.3,326.5 L335.2,326.6 L336.0,327.9 L336.9,328.7 L337.0,328.8 L337.8,328.3 L338.6,327.4 L339.5,326.4 L340.3,325.3 L340.4,325.4 L341.3,325.9 L342.1,327.0 L342.4,327.4 L343.0,326.3 L343.9,324.9 L344.7,324.9 L345.6,323.9 L345.7,323.8 L346.5,323.2 L347.4,322.8 L348.2,322.5 L349.1,321.8 L350.0,320.9 L350.0,320.9 L350.8,320.6 L351.7,321.1 L352.6,320.7 L353.2,320.3 L353.4,319.9 L354.3,318.2 L355.2,317.5 L356.1,316.2 L356.5,315.5 L356.9,315.3 L357.8,315.8 L358.7,314.8 L359.5,314.0 L360.4,313.8 L360.8,313.3 L361.3,313.4 L362.1,313.7 L363.0,313.6 L363.9,314.9 L364.8,314.4 L365.1,314.5 L365.6,314.4 L366.5,314.2 L367.4,313.5 L368.2,314.0 L369.1,313.8 L369.5,313.3 L370.0,313.4 L370.8,312.8 L371.7,312.2 L372.6,312.2 L373.4,312.4 L373.8,312.3 L374.3,312.5 L375.2,312.0 L376.1,313.9 L376.9,313.9 L377.8,313.3 L378.7,314.6 L379.2,314.5 L379.5,314.4 L380.4,314.3 L381.3,313.9 L382.1,313.5 L382.4,313.3 L383.0,315.0 L383.9,317.1 L384.6,318.8 L384.8,319.3 L385.6,322.3 L386.5,325.2 L386.8,326.3 L387.4,326.7 L388.2,327.6 L388.9,328.1 L389.1,328.3 L390.0,329.3 L390.9,329.9 L391.7,330.7 L391.7,330.7 L392.6,328.8 L393.5,326.7 L394.3,325.4 L395.2,324.5 L395.4,324.2 L396.1,325.2 L396.9,325.5 L397.6,326.3 L397.8,326.9 L398.7,329.2 L399.6,332.0 L399.7,332.4 L400.4,331.7 L401.3,330.7 L402.2,328.7 L403.0,327.4 L403.0,327.3 L403.9,325.6 L404.8,323.5 L405.6,321.9 L406.2,320.9 L406.5,320.5 L407.4,319.7 L408.2,318.5 L409.1,318.2 L409.5,317.7 L410.0,317.6 L410.9,317.1 L411.7,317.1 L412.6,316.9 L413.5,316.7 L413.8,316.6 L414.3,316.7 L415.2,317.4 L416.1,318.2 L416.9,318.4 L417.8,319.6 L418.1,319.9 L418.7,320.5 L419.6,321.6 L420.4,321.7 L421.3,322.7 L422.2,323.9 L422.4,324.2 L423.0,323.6 L423.9,322.3 L424.8,321.9 L425.6,321.7 L426.5,320.5 L426.8,320.3 L427.4,319.9 L428.3,319.7 L429.1,318.0 L430.0,317.1 L430.9,316.7 L431.0,316.6 L431.7,316.0 L432.6,315.6 L433.5,314.5 L434.4,314.5 L435.2,313.7 L436.1,313.7 L436.5,313.3 L437.0,313.5 L437.8,312.9 L438.7,313.4 L439.6,312.6 L440.4,311.5 L440.8,311.2 L441.3,311.6 L442.2,313.0 L443.1,314.0 L443.9,315.4 L444.0,315.5 L444.8,315.1 L445.7,314.1 L446.5,312.9 L447.4,313.1 L448.3,311.4 L448.4,311.2 L449.1,310.9 L450.0,309.9 L450.9,309.5 L451.8,308.5 L452.6,308.1 L452.7,308.0 L453.5,307.5 L454.4,306.7 L455.2,306.1 L456.1,305.8 L457.0,305.3 L457.8,304.8 L458.1,304.7 L458.7,305.1 L459.6,305.6 L460.4,306.5 L461.3,307.0 L462.2,307.9 L462.4,308.0 L463.1,306.5 L463.9,305.3 L464.8,302.8 L465.7,301.0 L466.1,300.4 L466.5,300.6 L467.4,301.8 L468.3,303.2 L469.1,304.9 L470.0,306.0 L470.8,307.2 L470.9,307.0 L471.8,306.1 L472.6,304.5 L473.5,303.9 L474.4,302.3 L475.2,301.4 L476.1,299.7 L476.2,299.6 L477.0,299.1 L477.9,297.9 L478.7,297.3 L479.6,296.7 L480.5,296.2 L481.3,295.6 L481.6,295.3 L482.2,294.8 L483.1,294.8 L483.9,293.4 L484.8,293.3 L485.7,293.2 L486.0,293.1 L486.6,293.2 L487.4,293.3 L488.3,292.9 L489.2,291.7 L490.0,293.0 L490.9,292.6 L491.8,292.4 L492.4,292.0 L492.6,291.9 L493.5,290.9 L494.4,289.2 L495.2,288.7 L496.1,287.3 L496.8,286.6 L497.0,286.4 L497.9,285.3 L498.7,284.8 L499.6,283.4 L500.5,282.2 L501.0,282.3 L501.3,282.7 L502.2,283.3 L503.1,284.5 L503.2,284.5 L503.9,284.1 L504.8,282.4 L505.7,282.4 L506.5,281.7 L506.6,281.7 L507.4,281.5 L508.3,281.9 L509.2,283.1 L510.0,284.0 L510.8,284.5 L510.9,284.4 L511.8,283.7 L512.6,283.0 L513.5,282.6 L514.4,280.8 L515.1,280.1 L515.3,280.3 L516.1,281.0 L517.0,280.4 L517.9,282.1 L518.4,282.3 L518.7,282.8 L519.6,285.0 L520.5,286.5 L521.4,288.4 L521.6,288.8 L522.2,288.5 L523.1,287.6 L524.0,285.1 L524.8,284.6 L524.9,284.5 L525.7,285.0 L526.6,285.7 L527.4,286.5 L527.5,286.6 L528.3,289.1 L529.2,291.4 L530.0,293.4 L530.3,294.2 L530.9,293.4 L531.8,291.2 L532.7,289.2 L533.5,287.7 L533.5,287.6 L534.4,286.1 L535.3,284.5 L536.1,284.3 L536.8,282.9 L537.0,283.0 L537.9,281.6 L538.8,282.6 L539.6,282.3 L540.0,282.3 L540.5,280.8 L541.4,278.0 L542.2,277.1 L543.1,274.9 L543.2,274.7 L544.0,273.6 L544.8,271.1 L545.7,270.8 L546.6,268.5 L547.5,266.4 L547.6,266.1 L548.3,265.6 L549.2,264.4 L550.1,262.8 L550.9,261.3 L551.8,260.8 L551.9,260.7 L552.7,260.1 L553.5,260.8 L554.4,261.7 L555.1,262.8 L555.3,262.5 L556.1,261.4 L557.0,259.0 L557.3,258.5 L557.9,259.1 L558.8,261.4 L559.6,261.9 L560.5,262.8 L561.4,261.8 L562.2,261.0 L563.1,260.6 L564.0,258.2 L564.2,257.9 L564.9,259.1 L565.7,260.7 L566.6,260.9 L567.0,261.8 L567.5,264.0 L568.3,266.8 L569.2,270.4 L570.1,271.1 L570.9,271.2 L571.8,272.0 L572.4,272.6 L572.7,272.2 L573.5,269.7 L574.4,268.5 L575.3,266.4 L575.7,266.1 L576.2,265.4 L577.0,263.1 L577.9,263.5 L578.8,263.6 L579.6,262.6 L580.0,262.8 L580.5,263.1 L581.4,263.6 L582.2,264.7 L583.1,266.0 L583.2,266.1 L584.0,268.8 L584.9,272.4 L585.7,274.9 L586.5,276.9 L586.6,277.1 L587.5,279.0 L588.3,280.7 L589.2,281.5 L589.7,282.3 L590.1,281.1 L591.0,278.1 L591.8,275.9 L592.3,274.7 L592.7,274.5 L593.6,273.4 L594.4,273.0 L595.3,271.9 L596.2,271.5 L596.2,271.5 L597.0,272.8 L597.9,274.1 L598.8,273.7 L599.5,273.7 L599.6,273.4 L600.5,271.3 L601.4,271.0 L602.3,268.3 L602.7,267.8 L603.1,268.3 L604.0,269.7 L604.9,269.8 L605.7,271.9 L606.6,274.2 L607.5,275.1 L608.1,275.7 L608.4,275.1 L609.2,274.4 L610.1,271.9 L611.0,271.0 L611.8,269.9 L612.4,269.1 L612.7,268.6 L613.6,268.2 L614.3,267.0 L614.4,267.1 L615.3,267.7 L616.2,267.0 L617.0,267.4 L617.9,269.2 L618.6,269.0 L618.8,269.2 L619.7,269.7 L620.5,270.5 L621.4,270.5 L622.3,270.9 L623.0,272.3 L623.1,272.0 L624.0,270.9 L624.9,270.7 L625.8,269.5 L626.2,268.9 L626.6,267.9 L627.5,265.9 L628.4,264.6 L629.2,264.1 L629.5,263.5 L630.1,262.6 L631.0,261.5 L631.8,261.4 L632.7,261.6 L633.6,260.4 L634.5,259.1 L634.9,258.4 L635.3,258.4 L636.2,256.6 L637.1,256.8 L637.9,255.6 L638.8,255.6 L639.7,254.0 L640.3,253.6 L640.5,253.4 L641.4,253.6 L642.3,253.5 L643.1,250.0 L644.0,248.8 L644.6,248.2 L644.9,247.9 L645.8,247.6 L646.6,245.2 L647.2,244.5 L647.5,244.9 L648.4,244.9 L649.2,246.9 L650.1,246.3 L651.0,246.7 L651.0,246.7 L651.9,245.6 L652.7,244.4 L653.6,246.3 L654.3,246.0 L654.5,246.0 L655.3,247.5 L656.2,247.0 L657.1,248.6 L657.6,249.3 L657.9,249.2 L658.8,248.5 L659.7,247.7 L660.5,247.2 L661.4,246.3 L661.9,246.0 L662.3,245.7 L663.2,245.1 L664.0,244.0 L664.9,242.6 L665.1,242.3 L665.8,241.7 L666.6,240.5 L667.5,239.9 L668.0,240.6 L668.4,241.2 L669.2,242.1 L670.1,242.9 L670.5,243.2 L671.0,242.8 L671.9,241.2 L672.7,242.0 L673.6,239.8 L673.8,239.5 L674.5,238.6 L675.3,237.5 L676.2,236.1 L677.0,235.2 L677.1,235.0 L678.0,236.5 L678.8,234.9 L679.2,234.6 L679.7,237.3 L680.6,241.8 L680.9,243.9 L681.4,242.7 L682.3,241.0 L683.0,240.2 L683.2,240.3 L684.0,240.2 L684.9,243.1 L685.2,243.9 L685.8,243.1 L686.6,241.6 L687.5,240.9 L688.3,239.5 L688.4,239.4 L689.3,237.1 L690.1,236.2 L691.0,235.6 L691.7,234.1 L691.9,233.9 L692.7,233.1 L693.6,232.4 L694.5,232.8 L695.4,233.1 L695.4,233.1 L696.2,233.0 L697.1,232.6 L698.0,235.0 L698.6,235.2 L698.8,234.9 L699.7,234.2 L700.6,233.6 L701.4,233.2 L701.9,233.1 L702.3,233.7 L703.2,234.2 L704.0,235.4 L704.9,235.6 L705.1,235.9 L705.8,236.0 L706.7,235.1 L707.5,234.9 L707.7,234.6 L708.4,236.9 L709.3,238.3 L709.9,239.5 L710.1,240.7 L711.0,244.6 L711.6,248.2 L711.9,247.9 L712.8,247.1 L713.6,246.3 L713.8,246.0 L714.5,248.1 L715.4,250.5 L716.2,252.2 L716.4,252.5 L717.1,254.0 L718.0,256.1 L718.8,257.4 L719.2,258.3 L719.7,256.8 L720.6,253.4 L721.5,250.9 L722.0,249.3 L722.3,249.0 L723.2,248.2 L724.1,246.7 L724.6,246.0 L724.9,245.5 L725.8,244.2 L726.7,243.2 L727.5,242.1 L727.8,241.7 L728.4,240.9 L729.3,239.8 L730.1,239.2 L731.0,238.5 L731.0,238.5 L731.9,236.8 L732.8,237.2 L733.6,234.7 L734.3,234.1 L734.5,234.4 L735.4,235.5 L736.2,236.9 L737.1,238.0 L737.6,238.7 L738.0,239.8 L738.9,239.4 L739.7,241.5 L739.7,241.5 L740.6,239.1 L741.5,238.2 L742.3,236.9 L742.3,236.9 L743.2,236.1 L744.1,234.9 L744.9,234.2 L745.8,233.3 L745.8,233.4 L746.7,236.0 L747.5,238.2 L748.4,241.4 L748.8,242.9 L749.3,241.8 L750.2,239.5 L751.0,236.4 L751.6,235.6 L751.9,235.2 L752.8,233.9 L753.1,233.6 L753.6,235.1 L754.5,237.4 L754.9,238.4 L755.4,237.4 L756.2,235.7 L757.1,233.0 L758.0,229.4 L758.0,229.3 L758.9,229.3 L759.7,227.2 L759.8,227.1 L760.6,226.2 L761.5,225.9 L762.2,224.3 L762.3,224.1 L763.2,221.4 L764.1,220.6 L764.6,219.7 L765.0,219.6 L765.8,218.7 L766.4,219.2 L766.7,219.2 L767.6,218.0 L767.9,217.8 L768.4,219.7 L769.3,222.5 L769.4,223.0 L770.2,220.2 L771.0,217.2 L771.5,215.5 L771.9,219.3 L772.4,223.5 L772.8,232.2 L773.0,237.0 L773.6,246.7 L774.0,252.0 L774.5,259.3 L775.4,272.3 L775.6,275.4 L776.3,271.4 L777.1,266.2 L777.3,265.0 L778.0,263.7 L778.9,261.2 L779.5,260.0 L779.7,259.6 L780.6,257.1 L781.5,257.0 L781.6,257.0 L782.4,258.5 L782.7,259.0 L783.2,256.2 L784.1,250.9 L784.9,245.0 L785.0,245.1 L785.8,245.7 L786.7,246.7 L787.0,247.0 L787.6,246.7 L788.4,246.3 L789.2,245.0 L789.3,245.0 L790.2,243.7 L791.0,241.3 L791.9,241.3 L792.4,241.0 L792.8,240.6 L793.7,240.7 L794.5,240.1 L794.6,240.0 L795.4,241.5 L796.3,243.0 L796.8,244.0 L797.1,243.0 L798.0,240.9 L798.9,239.1 L799.4,238.0 L799.8,238.4 L800.6,238.7 L801.0,239.0 L801.5,240.5 L802.4,243.8 L803.0,245.5 L803.2,243.9 L804.1,236.7 L804.3,235.0 L805.0,231.3 L805.8,227.2 L806.5,224.0 L806.7,223.9 L807.6,223.8 L808.5,220.7 L809.3,219.2 L809.7,219.0 L810.2,217.1 L811.1,212.6 L811.9,210.2 L812.3,208.4 L812.8,208.5 L813.7,208.8 L814.5,208.1 L815.4,208.1 L816.2,209.5 L816.3,209.2 L817.1,206.5 L818.0,204.0 L818.4,203.0 L818.9,202.7 L819.8,202.1 L820.5,200.8 L820.6,200.6 L821.5,199.6 L822.4,200.0 L823.2,199.6 L824.1,199.0 L825.0,198.8 L825.9,196.6 L826.0,196.5 L826.7,196.9 L827.6,196.9 L828.1,197.0 L828.5,196.8 L829.3,193.9 L830.2,192.4 L830.3,192.2 L831.1,192.1 L831.9,194.2 L832.8,192.7 L833.0,193.0 L833.7,191.4 L834.5,188.8 L835.4,188.0 L835.7,187.8 L836.3,187.6 L837.2,185.4 L838.0,184.4 L838.3,184.2 L838.9,184.3 L839.8,184.5 L840.6,184.5 L841.0,184.6 L841.5,185.0 L842.4,186.9 L843.2,188.6 L844.1,188.1 L844.8,190.0 L845.0,189.8 L845.9,188.4 L846.7,187.9 L847.6,187.0 L848.5,185.0 L849.3,184.0 L849.7,184.2 L850.2,184.9 L851.1,186.4 L852.0,189.9 L852.8,192.0 L853.0,192.2 L853.7,191.0 L854.6,186.7 L855.4,184.8 L856.2,184.2 L856.3,184.5 L857.2,187.1 L858.0,188.8 L858.9,192.0 L859.0,192.2 L859.8,194.6 L860.6,195.6 L861.5,196.5 L861.6,196.5 L862.4,202.6 L863.3,208.1 L864.1,214.5 L864.2,214.9 L865.0,210.0 L865.9,203.8 L866.0,203.0 L866.7,201.8 L867.6,201.4 L868.1,201.0 L868.5,201.0 L869.4,201.4 L870.2,202.9 L870.3,203.0 L871.1,207.2 L872.0,212.4 L872.0,212.7 L872.8,209.3 L873.7,208.3 L874.2,206.0 L874.6,208.2 L875.4,212.1 L875.7,213.0 L876.3,215.9 L877.2,221.2 L877.8,224.6 L878.0,223.9 L878.9,222.6 L879.8,220.7 L880.0,220.3 L880.7,218.4 L881.5,213.6 L882.4,214.1 L883.2,211.6 L883.3,211.9 L884.1,215.3 L885.0,217.9 L885.4,219.2 L885.9,220.7 L886.8,224.5 L887.6,229.0 L887.6,229.1 L888.5,233.4 L889.4,237.0 L889.7,238.6 L890.2,237.2 L891.1,236.8 L891.5,236.0 L892.0,233.4 L892.8,229.6 L893.6,224.6 L893.7,224.4 L894.6,221.7 L895.5,219.8 L896.2,217.0 L896.3,217.1 L897.2,216.4 L898.1,219.2 L898.4,220.0 L898.9,220.6 L899.8,221.7 L900.1,222.4 L900.7,219.4 L901.5,215.2 L902.4,210.8 L902.7,209.5 L903.3,208.5 L904.1,207.4 L905.0,206.5 L905.9,205.2 L906.0,205.1 L906.8,205.0 L907.6,205.2 L908.5,205.7 L908.8,205.8 L909.4,209.6 L910.2,214.4 L910.7,217.0 L911.1,215.4 L912.0,211.3 L912.4,209.5 L912.9,209.3 L913.7,208.9 L914.6,207.1 L915.5,206.1 L915.7,205.8" fill="none" stroke="#d4691e" stroke-width="1.3" stroke-dasharray="2 1" stroke-linejoin="round"/>
<path d="M12.4,359.6 L13.3,359.3 L14.1,358.9 L15.0,358.2 L15.9,357.8 L16.8,357.6 L17.4,357.2 L17.6,357.2 L18.5,357.0 L19.4,357.2 L20.2,357.2 L21.1,356.9 L21.4,356.9 L22.0,356.5 L22.8,355.8 L23.7,355.4 L24.6,355.2 L25.4,354.6 L26.3,354.4 L27.2,353.6 L28.0,353.1 L28.1,353.1 L28.9,353.2 L29.8,353.3 L30.7,353.4 L31.3,353.6 L31.5,353.5 L32.4,353.1 L33.3,352.2 L34.1,352.3 L34.5,352.0 L35.0,352.3 L35.9,352.2 L36.8,353.0 L37.6,352.5 L38.5,352.8 L39.4,352.3 L40.2,352.6 L40.2,352.6 L41.1,352.1 L42.0,350.9 L42.9,351.1 L43.7,349.9 L44.6,349.6 L45.1,349.4 L45.5,349.2 L46.3,349.2 L47.2,348.4 L48.1,347.4 L48.9,347.5 L49.8,347.2 L50.0,347.1 L50.7,347.6 L51.5,348.0 L52.4,348.7 L52.5,348.7 L53.3,348.1 L54.2,347.9 L55.0,347.4 L55.0,347.4 L55.9,347.2 L56.8,347.7 L57.6,348.4 L58.5,348.6 L59.4,349.1 L59.9,349.0 L60.2,348.9 L61.1,348.7 L62.0,348.4 L62.9,347.7 L63.7,347.5 L64.0,347.4 L64.6,347.6 L65.5,347.9 L66.3,348.1 L67.2,348.3 L68.1,349.4 L69.0,349.1 L69.8,349.3 L70.5,349.4 L70.7,349.2 L71.6,348.6 L72.4,348.9 L73.3,348.3 L74.2,347.6 L75.0,347.6 L75.4,347.4 L75.9,347.4 L76.8,346.9 L77.7,347.2 L78.5,346.0 L79.4,346.7 L80.3,346.4 L81.1,346.4 L81.9,345.8 L82.0,345.8 L82.9,345.1 L83.7,345.2 L84.6,344.9 L85.5,344.7 L86.3,344.1 L87.2,343.9 L88.1,343.5 L88.5,343.3 L89.0,342.9 L89.8,342.2 L90.7,341.8 L91.6,341.2 L92.4,340.5 L93.3,340.1 L93.4,340.0 L94.2,339.8 L95.0,339.8 L95.9,340.7 L96.8,340.9 L97.7,340.6 L98.3,340.9 L98.5,340.7 L99.4,339.9 L99.9,339.2 L100.3,339.5 L101.1,340.4 L102.0,341.8 L102.9,342.0 L103.2,342.2 L103.8,341.9 L104.6,341.0 L105.5,340.5 L106.4,339.6 L107.2,338.8 L108.1,338.4 L109.0,338.3 L109.8,337.7 L110.7,337.1 L111.6,337.4 L112.5,337.0 L113.3,336.7 L114.2,336.3 L114.6,336.0 L115.1,335.8 L115.9,335.6 L116.8,335.2 L117.7,334.3 L118.5,333.9 L119.4,333.6 L119.5,333.5 L120.3,333.4 L121.2,333.1 L122.0,333.5 L122.0,333.5 L122.9,334.5 L123.8,335.7 L124.4,336.8 L124.6,336.5 L125.5,335.0 L126.4,334.2 L127.2,333.2 L127.7,332.7 L128.1,332.4 L129.0,331.4 L129.8,331.2 L130.0,331.0 L130.7,331.1 L131.6,330.7 L132.5,330.0 L133.2,329.7 L133.3,329.6 L134.2,328.7 L135.1,328.5 L135.9,327.8 L136.8,326.8 L137.7,326.7 L138.0,326.5 L138.6,326.1 L139.4,325.0 L140.3,325.6 L141.2,324.2 L142.0,323.2 L142.9,323.1 L143.0,323.0 L143.8,322.5 L144.6,321.7 L145.5,321.2 L146.4,320.6 L147.2,320.4 L148.1,319.7 L148.4,319.6 L149.0,320.7 L149.9,321.5 L150.7,322.5 L151.0,323.0 L151.6,323.8 L152.5,325.0 L153.3,326.0 L153.8,326.5 L154.2,326.1 L155.1,325.5 L155.9,325.0 L156.8,324.2 L157.0,324.0 L157.7,323.6 L158.6,323.2 L159.4,323.0 L160.3,323.0 L161.2,322.4 L161.4,322.2 L162.0,321.8 L162.9,320.7 L163.8,320.3 L164.7,319.8 L165.0,319.5 L165.5,319.2 L166.4,318.7 L167.3,318.0 L168.1,317.4 L168.6,316.8 L169.0,316.3 L169.9,316.7 L170.7,315.2 L171.6,315.5 L172.5,314.2 L173.0,313.5 L173.3,313.4 L174.2,312.3 L175.1,311.9 L176.0,311.1 L176.8,311.4 L177.7,310.8 L178.4,310.3 L178.6,310.1 L179.4,309.0 L180.3,308.6 L181.2,308.3 L182.1,307.4 L182.9,306.9 L183.8,306.4 L183.8,306.4 L184.7,306.8 L185.5,306.9 L186.4,308.3 L187.0,309.2 L187.3,309.0 L188.1,308.0 L189.0,307.0 L189.9,305.9 L190.8,305.2 L191.6,304.0 L192.4,303.4 L192.5,303.4 L193.4,303.3 L194.2,302.9 L195.1,302.0 L196.0,301.2 L196.8,300.5 L196.8,300.5 L197.7,300.8 L198.6,301.7 L199.4,302.0 L200.0,301.6 L200.3,301.5 L201.2,301.5 L202.0,301.0 L202.1,301.2 L202.9,303.3 L203.8,305.2 L204.7,306.8 L205.5,308.5 L206.4,310.2 L206.5,310.3 L207.3,311.4 L208.2,312.2 L208.6,312.4 L209.0,311.9 L209.9,312.2 L210.8,310.8 L211.6,308.3 L212.5,307.0 L213.0,306.0 L213.4,306.1 L214.2,307.0 L215.1,306.7 L215.8,307.0 L216.0,307.4 L216.8,309.8 L217.7,311.1 L218.4,312.4 L218.6,312.2 L219.5,311.6 L220.3,310.6 L220.5,310.3 L221.2,311.6 L222.1,312.3 L222.9,314.4 L223.8,315.7 L223.8,315.7 L224.7,317.6 L225.6,320.6 L226.4,321.2 L227.0,322.2 L227.3,322.2 L228.2,321.7 L229.0,320.8 L229.9,320.9 L230.3,321.0 L230.8,321.3 L231.6,322.9 L232.5,322.8 L233.4,324.2 L233.5,324.3 L234.2,323.4 L235.1,323.0 L236.0,320.9 L236.8,320.0 L236.9,319.9 L237.7,319.4 L238.6,318.3 L239.5,317.3 L240.3,316.9 L240.4,316.8 L241.2,318.5 L242.1,319.9 L242.9,321.8 L243.2,322.2 L243.8,323.9 L244.7,326.5 L245.6,328.3 L246.4,330.0 L246.5,330.2 L247.3,329.0 L248.2,327.9 L249.0,327.3 L249.7,326.5 L249.9,326.3 L250.8,325.5 L251.7,325.6 L252.5,325.9 L253.0,325.4 L253.4,326.2 L254.3,328.1 L255.1,328.8 L256.0,330.5 L256.2,330.8 L256.9,334.7 L257.7,339.4 L258.4,342.7 L258.6,343.1 L259.5,344.5 L260.4,345.8 L260.5,346.0 L261.2,347.8 L262.1,350.0 L262.7,351.4 L263.0,351.2 L263.8,350.5 L264.7,350.0 L265.6,349.5 L266.0,349.2 L266.4,348.7 L267.3,347.9 L268.2,347.7 L269.1,347.1 L269.2,347.0 L269.9,347.9 L270.8,349.0 L271.7,349.5 L272.4,350.3 L272.5,350.5 L273.4,351.4 L274.3,352.5 L275.1,352.9 L275.7,353.5 L276.0,353.6 L276.9,353.9 L277.8,354.6 L277.8,354.6 L278.6,352.7 L279.5,350.2 L280.4,348.7 L281.0,347.0 L281.2,346.7 L282.1,345.0 L283.0,343.8 L283.8,343.3 L284.7,341.5 L285.4,340.5 L285.6,340.6 L286.4,341.0 L287.3,341.0 L288.2,342.1 L289.1,342.4 L289.7,342.7 L289.9,342.2 L290.8,340.9 L291.7,340.0 L292.5,338.2 L293.4,337.2 L294.0,336.2 L294.3,336.0 L295.1,335.5 L296.0,334.2 L296.9,333.2 L297.8,333.0 L298.6,332.9 L299.5,331.7 L300.4,330.9 L300.5,330.8" fill="none" stroke="#ffffff" stroke-width="1.35" stroke-linejoin="miter" stroke-miterlimit="3"/>
<path d="M299.5,331.7 L300.4,330.9 L300.5,330.8 L301.2,330.4 L302.1,329.8 L303.0,328.9 L303.8,328.6 L303.9,328.6 L304.7,329.2 L305.6,330.6 L306.5,331.3 L307.0,331.9 L307.3,331.7 L308.2,331.5 L309.1,331.0 L309.9,330.1 L310.8,329.8 L311.4,329.7 L311.7,329.3 L312.6,328.7 L313.4,327.9 L314.3,326.6 L314.3,326.6 L315.2,327.2 L316.0,328.5 L316.9,328.2 L317.8,329.5 L318.2,330.1 L318.6,329.5 L319.5,328.1 L320.4,327.0 L321.2,326.0 L322.1,324.8 L323.0,323.6 L323.0,323.6 L323.9,323.0 L324.7,322.1 L325.6,320.8 L326.5,320.5 L326.9,320.2 L327.3,321.2 L328.2,322.6 L329.1,325.1 L329.9,326.7 L330.5,328.0 L330.8,327.7 L331.7,326.7 L332.6,326.2 L333.4,324.6 L333.8,324.0 L334.3,324.3 L335.2,324.4 L336.0,325.7 L336.9,326.5 L337.0,326.6 L337.8,326.1 L338.6,325.2 L339.5,324.1 L340.3,323.0 L340.4,323.1 L341.3,323.6 L342.1,324.7 L342.4,325.1 L343.0,324.0 L343.9,322.5 L344.7,322.7 L345.6,321.6 L345.7,321.5 L346.5,320.9 L347.4,320.5 L348.2,320.2 L349.1,319.5 L350.0,318.6 L350.0,318.6 L350.8,318.3 L351.7,318.8 L352.6,318.4 L353.2,318.0 L353.4,317.6 L354.3,315.9 L355.2,315.2 L356.1,313.9 L356.5,313.2 L356.9,313.0 L357.8,313.5 L358.7,312.5 L359.5,311.7 L360.4,311.5 L360.8,311.0 L361.3,311.1 L362.1,311.4 L363.0,311.3 L363.9,312.6 L364.8,312.1 L365.1,312.2 L365.6,312.1 L366.5,311.9 L367.4,311.1 L368.2,311.7 L369.1,311.5 L369.5,311.0 L370.0,311.1 L370.8,310.5 L371.7,309.9 L372.6,309.9 L373.4,310.1 L373.8,310.0 L374.3,310.2 L375.2,309.7 L376.1,311.6 L376.9,311.6 L377.8,311.0 L378.7,312.3 L379.2,312.2 L379.5,312.1 L380.4,312.0 L381.3,311.6 L382.1,311.2 L382.4,311.0 L383.0,312.7 L383.9,314.8 L384.6,316.5 L384.8,317.0 L385.6,320.0 L386.5,322.9 L386.8,324.0 L387.4,324.4 L388.2,325.3 L388.9,325.8 L389.1,326.0 L390.0,327.0 L390.9,327.6 L391.7,328.4 L391.7,328.4 L392.6,326.5 L393.5,324.3 L394.3,323.1 L395.2,322.2 L395.4,321.9 L396.1,322.9 L396.9,323.2 L397.6,324.0 L397.8,324.6 L398.7,326.9 L399.6,329.7 L399.7,330.1 L400.4,329.4 L401.3,328.5 L402.2,326.4 L403.0,325.1 L403.0,325.0 L403.9,323.3 L404.8,321.2 L405.6,319.6 L406.2,318.6 L406.5,318.1 L407.4,317.4 L408.2,316.2 L409.1,315.9 L409.5,315.4 L410.0,315.3 L410.9,314.8 L411.7,314.8 L412.6,314.6 L413.5,314.4 L413.8,314.3 L414.3,314.4 L415.2,315.1 L416.1,315.9 L416.9,316.1 L417.8,317.3 L418.1,317.6 L418.7,318.2 L419.6,319.3 L420.4,319.3 L421.3,320.4 L422.2,321.6 L422.4,321.9 L423.0,321.3 L423.9,320.0 L424.8,319.6 L425.6,319.4 L426.5,318.2 L426.8,318.0 L427.4,317.6 L428.3,317.4 L429.1,315.7 L430.0,314.8 L430.9,314.4 L431.0,314.3 L431.7,313.7 L432.6,313.3 L433.5,312.1 L434.4,312.2 L435.2,311.4 L436.1,311.4 L436.5,311.0 L437.0,311.2 L437.8,310.6 L438.7,311.1 L439.6,310.3 L440.4,309.2 L440.8,308.9 L441.3,309.3 L442.2,310.7 L443.1,311.7 L443.9,313.1 L444.0,313.2 L444.8,312.8 L445.7,311.8 L446.5,310.6 L447.4,310.8 L448.3,309.1 L448.4,308.9 L449.1,308.6 L450.0,307.6 L450.9,307.2 L451.8,306.2 L452.6,305.8 L452.7,305.7 L453.5,305.2 L454.4,304.4 L455.2,303.8 L456.1,303.5 L457.0,303.0 L457.8,302.5 L458.1,302.4 L458.7,302.8 L459.6,303.3 L460.4,304.2 L461.3,304.7 L462.2,305.6 L462.4,305.7 L463.1,304.2 L463.9,303.0 L464.8,300.5 L465.7,298.7 L466.1,298.1 L466.5,298.3 L467.4,299.5 L468.3,300.9 L469.1,302.6 L470.0,303.7 L470.8,304.9 L470.9,304.7 L471.8,303.8 L472.6,302.2 L473.5,301.6 L474.4,300.0 L475.2,299.1 L476.1,297.4 L476.2,297.3 L477.0,296.8 L477.9,295.6 L478.7,295.0 L479.6,294.4 L480.5,293.9 L481.3,293.3 L481.6,293.0 L482.2,292.5 L483.1,292.5 L483.9,291.1 L484.8,290.9 L485.7,290.9 L486.0,290.8 L486.6,290.9 L487.4,291.0 L488.3,290.6 L489.2,289.4 L490.0,290.7 L490.9,290.3 L491.8,290.1 L492.4,289.7 L492.6,289.6 L493.5,288.6 L494.4,286.9 L495.2,286.4 L496.1,285.0 L496.8,284.3 L497.0,284.1 L497.9,283.0 L498.7,282.5 L499.6,281.1 L500.5,279.9 L501.0,280.0 L501.3,280.4 L502.2,281.0 L503.1,282.2 L503.2,282.2 L503.9,281.8 L504.8,280.1 L505.7,280.1 L506.5,279.4 L506.6,279.4 L507.4,279.2 L508.3,279.6 L509.2,280.8 L510.0,281.7 L510.8,282.2 L510.9,282.1 L511.8,281.4 L512.6,280.7 L513.5,280.3 L514.4,278.5 L515.1,277.8 L515.3,278.0 L516.1,278.7 L517.0,278.1 L517.9,279.8 L518.4,280.0 L518.7,280.5 L519.6,282.7 L520.5,284.2 L521.4,286.1 L521.6,286.5 L522.2,286.2 L523.1,285.4 L524.0,282.8 L524.8,282.3 L524.9,282.2 L525.7,282.7 L526.6,283.4 L527.4,284.2 L527.5,284.3 L528.3,286.8 L529.2,289.1 L530.0,291.1 L530.3,291.9 L530.9,291.1 L531.8,288.9 L532.7,286.9 L533.5,285.4 L533.5,285.3 L534.4,283.8 L535.3,282.2 L536.1,282.0 L536.8,280.6 L537.0,280.7 L537.9,279.3 L538.8,280.3 L539.6,280.0 L540.0,280.0 L540.5,278.5 L541.4,275.7 L542.2,274.8 L543.1,272.6 L543.2,272.4 L544.0,271.3 L544.8,268.8 L545.7,268.6 L546.6,266.2 L547.5,264.1 L547.6,263.8 L548.3,263.3 L549.2,262.1 L550.1,260.5 L550.9,259.0 L551.8,258.5 L551.9,258.4 L552.7,257.8 L553.5,258.4 L554.4,259.4 L555.1,260.5 L555.3,260.2 L556.1,259.1 L557.0,256.7 L557.3,256.2 L557.9,256.8 L558.8,259.2 L559.6,259.6 L560.5,260.5 L561.4,259.5 L562.2,258.7 L563.1,258.4 L564.0,255.9 L564.2,255.6 L564.9,256.8 L565.7,258.4 L566.6,258.6 L567.0,259.5 L567.5,261.7 L568.3,264.5 L569.2,268.1 L570.1,268.8 L570.9,268.9 L571.8,269.7 L572.4,270.3 L572.7,269.9 L573.5,267.4 L574.4,266.2 L575.3,264.1 L575.7,263.8 L576.2,263.1 L577.0,260.8 L577.9,261.2 L578.8,261.3 L579.6,260.3 L580.0,260.5 L580.5,260.8 L581.4,261.3 L582.2,262.4 L583.1,263.7 L583.2,263.8 L584.0,266.5 L584.9,270.1 L585.7,272.6 L586.5,274.6 L586.6,274.8 L587.5,276.7 L588.3,278.4 L589.2,279.2 L589.7,280.0 L590.1,278.8 L591.0,275.8 L591.8,273.6 L592.3,272.4 L592.7,272.2 L593.6,271.1 L594.4,270.7 L595.3,269.6 L596.2,269.2 L596.2,269.2 L597.0,270.5 L597.9,271.8 L598.8,271.4 L599.5,271.4 L599.6,271.1 L600.5,269.0" fill="none" stroke="#ffffff" stroke-width="1.6" stroke-linejoin="miter" stroke-miterlimit="3"/>
<path d="M599.5,271.4 L599.6,271.1 L600.5,269.0 L601.4,268.8 L602.3,266.1 L602.7,265.5 L603.1,266.1 L604.0,267.5 L604.9,267.6 L605.7,269.6 L606.6,272.0 L607.5,272.9 L608.1,273.5 L608.4,272.9 L609.2,272.3 L610.1,269.7 L611.0,268.9 L611.8,267.8 L612.4,267.0 L612.7,266.5 L613.6,266.1 L614.3,264.9 L614.4,265.0 L615.3,265.6 L616.2,264.9 L617.0,265.3 L617.9,267.1 L618.6,267.0 L618.8,267.2 L619.7,267.7 L620.5,268.5 L621.4,268.5 L622.3,268.9 L623.0,270.3 L623.1,270.0 L624.0,268.9 L624.9,268.8 L625.8,267.6 L626.2,267.0 L626.6,266.0 L627.5,264.0 L628.4,262.7 L629.2,262.2 L629.5,261.6 L630.1,260.8 L631.0,259.6 L631.8,259.6 L632.7,259.8 L633.6,258.6 L634.5,257.3 L634.9,256.6 L635.3,256.7 L636.2,254.8 L637.1,255.0 L637.9,253.9 L638.8,253.9 L639.7,252.3 L640.3,251.9 L640.5,251.7 L641.4,251.9 L642.3,251.8 L643.1,248.3 L644.0,247.1 L644.6,246.5 L644.9,246.2 L645.8,245.9 L646.6,243.5 L647.2,242.8 L647.5,243.2 L648.4,243.2 L649.2,245.2 L650.1,244.6 L651.0,245.0 L651.0,245.0 L651.9,243.9 L652.7,242.7 L653.6,244.6 L654.3,244.3 L654.5,244.3 L655.3,245.8 L656.2,245.3 L657.1,246.9 L657.6,247.6 L657.9,247.5 L658.8,246.8 L659.7,246.0 L660.5,245.5 L661.4,244.6 L661.9,244.3 L662.3,244.0 L663.2,243.4 L664.0,242.3 L664.9,240.9 L665.1,240.6 L665.8,240.0 L666.6,238.8 L667.5,238.2 L668.0,238.9 L668.4,239.5 L669.2,240.4 L670.1,241.2 L670.5,241.5 L671.0,241.1 L671.9,239.4 L672.7,240.3 L673.6,238.1 L673.8,237.8 L674.5,236.9 L675.3,235.8 L676.2,234.4 L677.0,233.5 L677.1,233.3 L678.0,234.8 L678.8,233.2 L679.2,232.9 L679.7,235.6 L680.6,240.1 L680.9,242.2 L681.4,241.0 L682.3,239.3 L683.0,238.5 L683.2,238.6 L684.0,238.5 L684.9,241.4 L685.2,242.2 L685.8,241.4 L686.6,239.9 L687.5,239.2 L688.3,237.8 L688.4,237.7 L689.3,235.4 L690.1,234.5 L691.0,233.9 L691.7,232.4 L691.9,232.2 L692.7,231.4 L693.6,230.7 L694.5,231.1 L695.4,231.4 L695.4,231.4 L696.2,231.3 L697.1,230.9 L698.0,233.3 L698.6,233.5 L698.8,233.2 L699.7,232.5 L700.6,231.9 L701.4,231.5 L701.9,231.4 L702.3,232.0 L703.2,232.5 L704.0,233.7 L704.9,233.9 L705.1,234.2 L705.8,234.3 L706.7,233.4 L707.5,233.2 L707.7,232.9 L708.4,235.2 L709.3,236.6 L709.9,237.8 L710.1,239.0 L711.0,242.9 L711.6,246.5 L711.9,246.2 L712.8,245.4 L713.6,244.6 L713.8,244.3 L714.5,246.4 L715.4,248.9 L716.2,250.5 L716.4,250.8 L717.1,252.3 L718.0,254.4 L718.8,255.7 L719.2,256.6 L719.7,255.1 L720.6,251.7 L721.5,249.2 L722.0,247.6 L722.3,247.3 L723.2,246.5 L724.1,245.0 L724.6,244.3 L724.9,243.8 L725.8,242.5 L726.7,241.5 L727.5,240.4 L727.8,240.0 L728.4,239.2 L729.3,238.1 L730.1,237.5 L731.0,236.8 L731.0,236.8 L731.9,235.1 L732.8,235.5 L733.6,233.0 L734.3,232.4 L734.5,232.7 L735.4,233.8 L736.2,235.1 L737.1,236.1 L737.6,236.8 L738.0,237.8 L738.9,237.3 L739.7,239.4 L739.7,239.4 L740.6,236.9 L741.5,235.9 L742.3,234.6 L742.3,234.6 L743.2,233.7 L744.1,232.4 L744.9,231.6 L745.8,230.7 L745.8,230.7 L746.7,233.3 L747.5,235.3 L748.4,238.5 L748.8,240.0 L749.3,238.8 L750.2,236.4 L751.0,233.3 L751.6,232.4 L751.9,232.0 L752.8,230.6 L753.1,230.3 L753.6,231.8 L754.5,234.0 L754.9,235.0 L755.4,233.9 L756.2,232.1 L757.1,229.3 L758.0,225.6 L758.0,225.6 L758.9,225.5 L759.7,223.3 L759.8,223.2 L760.6,222.3 L761.5,221.9 L762.2,220.2 L762.3,220.0 L763.2,217.2 L764.1,216.4 L764.6,215.4 L765.0,215.3 L765.8,214.3 L766.4,214.8 L766.7,214.7 L767.6,213.5 L767.9,213.3 L768.4,215.1 L769.3,217.9 L769.4,218.4 L770.2,215.3 L771.0,211.9 L771.5,210.0 L771.9,214.3 L772.4,219.0 L772.8,228.3 L773.0,233.5 L773.6,242.4 L774.0,247.3 L774.5,254.7 L775.4,267.9 L775.6,271.0 L776.3,266.0 L777.1,259.5 L777.3,258.0 L778.0,255.9 L778.9,252.4 L779.5,250.5 L779.7,249.9 L780.6,246.8 L781.5,246.2 L781.6,246.2 L782.4,249.3 L782.7,250.5 L783.2,246.2 L784.1,237.6 L784.2,236.5 L784.9,230.0 L785.0,230.2 L785.8,232.1 L786.7,234.6 L787.0,235.4 L787.6,235.1 L788.4,234.6 L789.2,233.2 L789.3,233.2 L790.2,231.8 L791.0,229.2 L791.9,229.3 L792.4,228.9 L792.8,228.5 L793.7,228.6 L794.5,227.9 L794.6,227.8 L795.4,229.9 L796.3,231.8 L796.8,233.2 L797.1,232.0 L798.0,229.4 L798.9,227.1 L799.4,225.7 L799.8,226.1 L800.6,226.5 L801.0,226.8 L801.5,229.3 L802.4,234.4 L802.8,236.5 L803.2,233.3 L804.1,225.3 L804.3,223.5 L805.0,220.5 L805.8,217.4 L806.5,214.9 L806.7,214.9 L807.6,215.3 L808.5,212.7 L809.3,211.6 L809.7,211.6 L810.2,210.2 L811.1,206.7 L811.9,205.4 L812.3,204.0 L812.8,203.5 L813.7,202.7 L814.5,201.9 L814.5,201.9 L815.4,201.8 L816.2,204.0 L816.3,203.6 L817.1,200.1 L818.0,196.8 L818.4,195.4 L818.9,195.4 L819.8,195.3 L820.5,194.3 L820.6,193.9 L821.5,191.4 L822.4,189.9 L822.7,188.9 L823.2,188.5 L824.1,188.0 L825.0,187.3 L825.9,184.4 L826.0,184.2 L826.7,184.6 L827.6,184.5 L828.1,184.6 L828.5,183.9 L829.3,179.9 L830.2,177.4 L830.3,177.0 L831.1,177.0 L831.9,179.2 L832.8,177.8 L833.0,178.1 L833.7,176.6 L834.5,174.1 L835.4,173.5 L835.7,173.4 L836.3,172.5 L837.2,169.0 L838.0,166.8 L838.3,166.2 L838.9,165.6 L839.8,164.8 L840.6,163.7 L841.0,163.4 L841.5,163.9 L842.4,166.1 L843.2,167.3 L843.2,167.5 L844.1,168.7 L845.0,172.6 L845.4,173.8 L845.9,172.2 L846.7,169.8 L847.6,167.3 L848.5,163.9 L849.3,161.5 L849.7,161.2 L850.2,161.3 L851.1,162.7 L851.2,163.0 L852.0,168.1 L852.8,173.9 L853.0,174.9 L853.7,172.9 L854.6,168.5 L855.1,167.3 L855.4,166.5 L856.3,166.6 L856.6,166.2 L857.2,169.0 L858.0,172.9 L858.4,174.9 L858.9,176.8 L859.8,180.9 L860.5,182.4 L860.6,182.7 L861.5,184.5 L862.0,184.6 L862.4,188.1 L863.3,195.0 L864.1,202.5 L864.2,203.0 L865.0,197.6 L865.9,190.9 L866.0,190.0 L866.7,188.7 L867.6,188.2 L868.1,187.8 L868.5,188.0 L869.4,188.8 L870.2,190.9 L870.3,191.0 L871.1,196.7 L872.0,203.7 L872.0,204.0 L872.8,200.7 L873.7,199.9 L874.2,197.6 L874.6,200.2 L875.4,205.0 L875.7,206.2 L876.3,208.9 L877.2,213.8 L877.8,217.0 L878.0,216.3 L878.9,215.0 L879.8,213.1 L880.0,212.7 L880.7,209.7 L881.5,204.6 L882.2,203.0 L882.4,203.0 L883.3,202.4 L883.7,201.9 L884.1,204.9 L885.0,210.2 L885.4,212.7 L885.9,214.4 L886.8,218.6 L887.6,223.5 L887.6,223.6 L888.5,228.9 L889.4,233.4 L889.7,235.4 L890.2,234.1 L891.1,233.9 L891.5,233.2 L892.0,230.5 L892.8,226.5 L893.6,221.4 L893.7,220.8 L894.6,215.7 L895.1,212.7 L895.5,212.8 L896.3,211.8 L896.6,211.6 L897.2,211.9 L898.1,214.9 L898.4,216.0 L898.9,216.8 L899.8,218.3 L900.1,219.2 L900.7,216.2 L901.5,211.9 L902.4,207.5 L902.7,206.2 L903.3,204.7 L904.1,202.7 L905.0,200.9 L905.3,200.2 L905.9,200.8 L906.8,201.6 L907.0,201.9 L907.6,201.4 L908.5,200.9 L908.8,200.8 L909.4,205.1 L910.2,210.7 L910.7,213.8 L911.1,212.2 L912.0,208.0 L912.4,206.2 L912.9,206.2 L913.7,206.1 L914.6,204.5 L915.5,203.8 L915.7,203.6" fill="none" stroke="#ffffff" stroke-width="1.85" stroke-linejoin="miter" stroke-miterlimit="3"/>
<rect x="15.00" y="145.00" width="115.80" height="35.80" fill="#101010"/>
<rect x="18.20" y="148.20" width="6.20" height="6.00" fill="#ffffff"/>
<rect x="25.80" y="147.30" width="103.40" height="7.60" fill="#ffffff"/>
<text x="25.75" y="153.70" textLength="102.90" lengthAdjust="spacingAndGlyphs" font-size="7.2" fill="#303030">STOXX Europe Small 200 Price EUR</text>
<rect x="18.7" y="156.7" width="5.2" height="5.2" fill="none" stroke="#d4691e" stroke-width="1" stroke-dasharray="1.4 0.9"/>
<text x="25.75" y="161.90" textLength="96.10" lengthAdjust="spacingAndGlyphs" font-size="7.2" fill="#e4e4e4">STOXX Europe Mid 200 Price EUR</text>
<rect x="18.7" y="164.6" width="5.2" height="5.2" fill="none" stroke="#b3a51c" stroke-width="1" stroke-dasharray="1.4 0.9"/>
<text x="25.75" y="169.90" textLength="102.60" lengthAdjust="spacingAndGlyphs" font-size="7.2" fill="#e4e4e4">STOXX Europe 600 Price Index EUR</text>
<rect x="18.20" y="172.10" width="6.20" height="6.00" fill="#f20000"/>
<text x="25.75" y="177.70" textLength="76.50" lengthAdjust="spacingAndGlyphs" font-size="7.2" fill="#e4e4e4">EURO STOXX 50 Price EUR</text>
<rect x="426.20" y="142.00" width="30.90" height="9.70" fill="#1b1b1b"/>
<rect x="458.00" y="142.00" width="39.10" height="9.70" fill="#1b1b1b"/>
<rect x="498.00" y="142.00" width="30.10" height="9.70" fill="#1b1b1b"/>
<path d="M432.4,144 v5.6 M429.6,146.8 h5.6" stroke="#5c5c5c" stroke-width="1.3" fill="none"/>
<text x="438.65" y="149.20" textLength="16.50" lengthAdjust="spacingAndGlyphs" font-size="6.9" fill="#c4c4c4">Track</text>
<path d="M461.8,149.2 L466,144.6" stroke="#5c5c5c" stroke-width="1.2" fill="none"/>
<text x="470.65" y="149.20" textLength="24.70" lengthAdjust="spacingAndGlyphs" font-size="6.9" fill="#c4c4c4">Annotate</text>
<circle cx="503.4" cy="146" r="1.9" stroke="#5c5c5c" stroke-width="1" fill="none"/><path d="M504.8,147.5 l2,2.1" stroke="#5c5c5c" stroke-width="1.1"/>
<text x="510.55" y="149.20" textLength="16.30" lengthAdjust="spacingAndGlyphs" font-size="6.9" fill="#c4c4c4">Zoom</text>
</svg>
</body></html>
